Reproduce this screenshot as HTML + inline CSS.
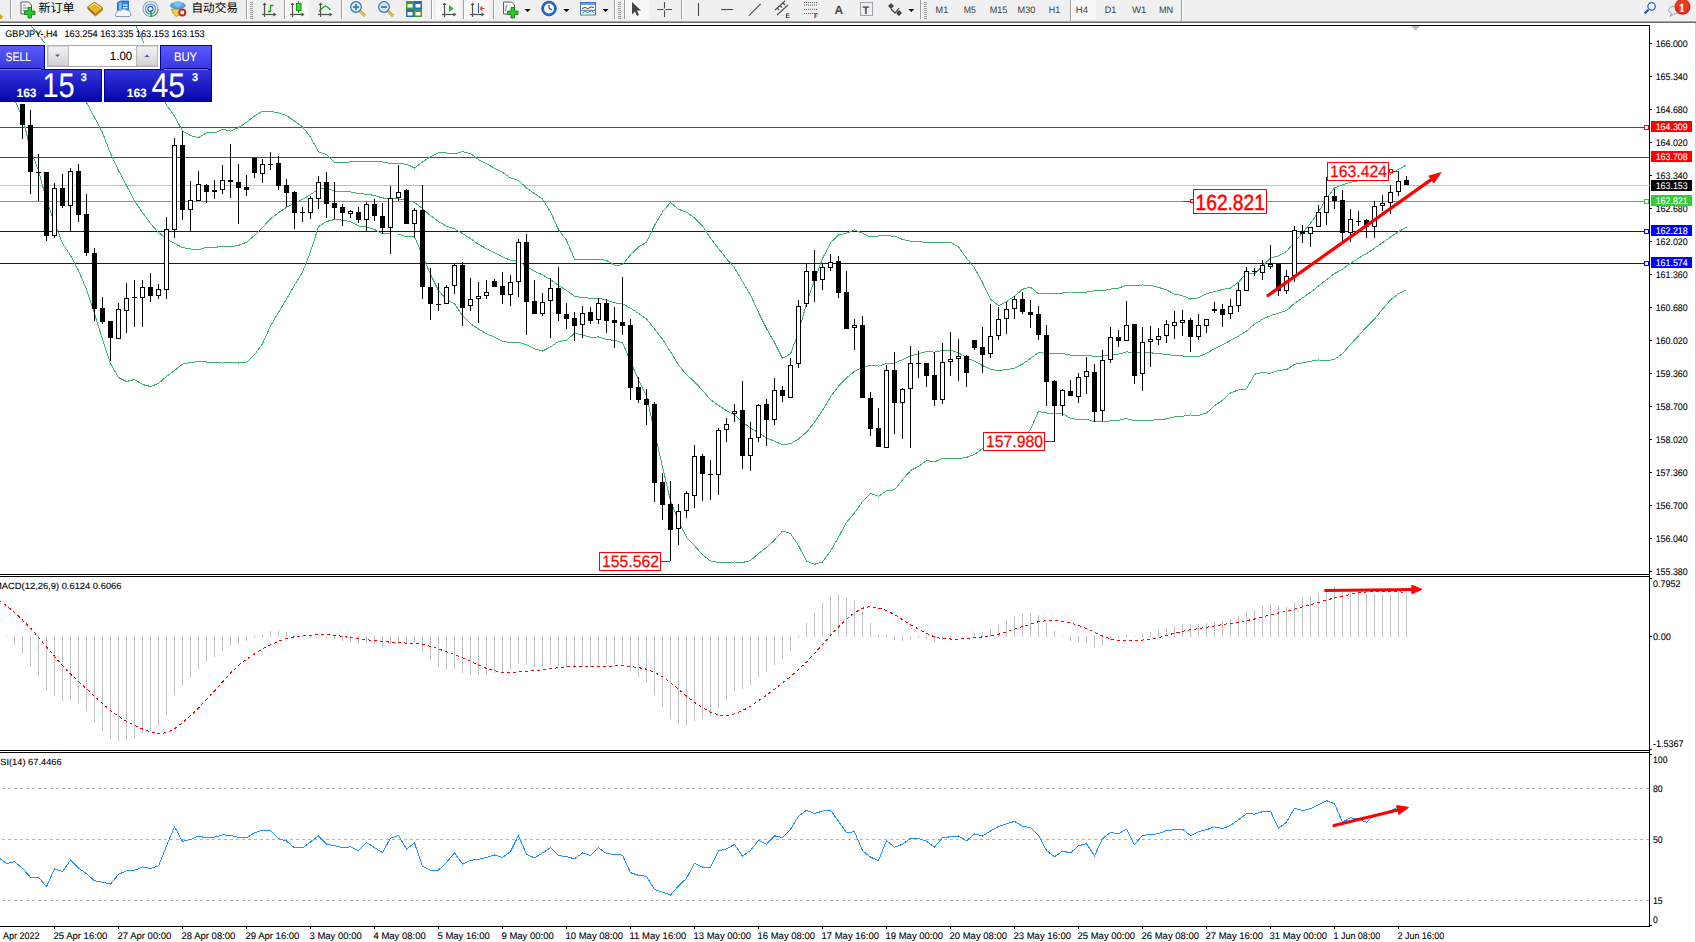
<!DOCTYPE html>
<html><head><meta charset="utf-8"><style>
html,body{margin:0;padding:0;background:#fff;}
body{width:1696px;height:942px;overflow:hidden;position:relative;font-family:'Liberation Sans', 'Noto Sans CJK SC', sans-serif;}
svg{position:absolute;left:0;top:0;}
</style></head><body>
<svg width="1696" height="942" viewBox="0 0 1696 942" shape-rendering="crispEdges" text-rendering="geometricPrecision">
<rect x="0" y="0" width="1696" height="942" fill="#fff"/>
<!-- toolbar -->
<g shape-rendering="auto"><rect x="0" y="0" width="1696" height="21" fill="#f0f0f0"/>
<rect x="0" y="21" width="1696" height="1" fill="#a8a8a8"/>
<rect x="0" y="22" width="1696" height="1" fill="#6b6b6b"/>
<path d="M0 14 L3 16.5 L1.5 19 L0 19 Z" fill="#d9a520"/>
<rect x="10" y="0" width="1" height="19" fill="#a0a0a0"/><rect x="11" y="0" width="1" height="19" fill="#ffffff"/>
<path d="M21 2 L28.5 2 L31.5 5 L31.5 14 L21 14 Z" fill="#fafafa" stroke="#5a5a5a" stroke-width="1"/>
<path d="M23 5 L26 5 M23 8 L29 8 M23 10.5 L27 10.5" stroke="#888" stroke-width="1"/>
<path d="M28 7.5 h3.5 v3.5 h3.5 v3.5 h-3.5 v3.5 h-3.5 v-3.5 h-3.5 v-3.5 h3.5 Z" fill="#22cc22" stroke="#0a7a0a" stroke-width="0.8"/>
<text x="38.5" y="12.1" font-size="12" font-family="'Liberation Sans', 'Noto Sans CJK SC', sans-serif" fill="#000" textLength="36" lengthAdjust="spacingAndGlyphs">新订单</text>
<path d="M87.5 9 L95.5 16.5 L95.5 14 L87.5 7 Z" fill="#9a5a10"/>
<path d="M95.5 16.5 L103 10 L103 8 L95.5 14 Z" fill="#c07a18"/>
<path d="M87.5 7 L94.5 2 L103 8 L95.5 14 Z" fill="#e6b52a" stroke="#a86c12" stroke-width="0.8"/>
<path d="M89.5 7 L94.5 3.5 L100.5 8" fill="none" stroke="#fbe79a" stroke-width="1"/>
<path d="M117.5 2.5 L121 1 L128.5 1 L128.5 11 L117.5 11 Z" fill="#2f86e0" stroke="#1a5cb0" stroke-width="0.8"/>
<path d="M119 3 L121.5 2 L121.5 10 L119 10 Z" fill="#7cc0f5"/>
<path d="M123 4.5 h4.5 v1.2 h-4.5 Z M123 7 h4.5 v1.2 h-4.5 Z" fill="#e8f4ff"/>
<path d="M116 16.5 Q114 14.5 116.5 12.5 Q117 9.5 120.5 10.5 Q123 7.5 126.5 10 Q130.5 9.5 130.5 13 Q132 15.5 129.5 16.5 Z" fill="#f2f4f8" stroke="#8090a8" stroke-width="0.9"/>
<g fill="none" stroke-width="1.1"><circle cx="150.5" cy="9" r="7.5" stroke="#7fb0e0"/><circle cx="150.5" cy="9" r="5" stroke="#4f8ad0"/><circle cx="150.5" cy="9" r="2.6" stroke="#2a63c0"/><path d="M151 10 L151 17" stroke="#22aa22" stroke-width="1.6"/><path d="M151 16.5 A7.5 7.5 0 0 0 158 9" stroke="#3dbb3d"/></g>
<path d="M171.5 9 L183 9 L181 14 L176 16.5 L173 13 Z" fill="#f2d040" stroke="#b08a10" stroke-width="0.8"/>
<ellipse cx="177.8" cy="5.5" rx="7.5" ry="3" fill="#5aaae0" stroke="#2a78b8" stroke-width="0.8"/>
<ellipse cx="177.8" cy="3.8" rx="4" ry="2.8" fill="#7cc0ee"/>
<circle cx="182.3" cy="12.5" r="4" fill="#d02020"/><rect x="180.5" y="10.7" width="3.6" height="3.6" fill="#fff"/>
<text x="191.5" y="12.3" font-size="12" font-family="'Liberation Sans', 'Noto Sans CJK SC', sans-serif" fill="#000" textLength="46.5" lengthAdjust="spacingAndGlyphs">自动交易</text>
<rect x="246" y="0" width="1" height="19" fill="#a0a0a0"/><rect x="247" y="0" width="1" height="19" fill="#ffffff"/>
<rect x="250" y="2" width="3" height="1" fill="#9a9a9a"/><rect x="250" y="4" width="3" height="1" fill="#9a9a9a"/><rect x="250" y="6" width="3" height="1" fill="#9a9a9a"/><rect x="250" y="8" width="3" height="1" fill="#9a9a9a"/><rect x="250" y="10" width="3" height="1" fill="#9a9a9a"/><rect x="250" y="12" width="3" height="1" fill="#9a9a9a"/><rect x="250" y="14" width="3" height="1" fill="#9a9a9a"/><rect x="250" y="16" width="3" height="1" fill="#9a9a9a"/><rect x="250" y="18" width="3" height="1" fill="#9a9a9a"/>
<g stroke="#505050" stroke-width="1.2" fill="none"><path d="M264.5 4 L264.5 17.0"/><path d="M262 14.5 L275 14.5"/></g><path d="M262.5 5 L264.5 2.5 L266.5 5 Z" fill="#505050"/><path d="M273.5 12.5 L276.5 14.5 L273.5 16.5 Z" fill="#505050"/>
<path d="M270.5 5 L270.5 12 M268 11.5 L270.5 11.5 M270.5 5.5 L273.5 5.5" stroke="#1a9a1a" stroke-width="1.3" fill="none"/>
<rect x="284" y="0" width="1" height="19" fill="#a0a0a0"/><rect x="285" y="0" width="1" height="19" fill="#ffffff"/>
<rect x="286" y="0" width="23" height="19" fill="#f8f8f8"/>
<g stroke="#505050" stroke-width="1.2" fill="none"><path d="M292.5 4 L292.5 17.0"/><path d="M290 14.5 L303 14.5"/></g><path d="M290.5 5 L292.5 2.5 L294.5 5 Z" fill="#505050"/><path d="M301.5 12.5 L304.5 14.5 L301.5 16.5 Z" fill="#505050"/>
<path d="M298.7 1 L298.7 13" stroke="#0a8a0a" stroke-width="1"/><rect x="296.5" y="3.5" width="4.6" height="7" fill="#33dd33" stroke="#0a8a0a" stroke-width="0.9"/>
<g stroke="#505050" stroke-width="1.2" fill="none"><path d="M320.5 4 L320.5 17.0"/><path d="M318 14.5 L331 14.5"/></g><path d="M318.5 5 L320.5 2.5 L322.5 5 Z" fill="#505050"/><path d="M329.5 12.5 L332.5 14.5 L329.5 16.5 Z" fill="#505050"/>
<path d="M319 11.5 Q322 8 325 6 Q327 6 330.5 10" stroke="#1a9a1a" stroke-width="1.2" fill="none"/>
<rect x="341" y="0" width="1" height="19" fill="#a0a0a0"/><rect x="342" y="0" width="1" height="19" fill="#ffffff"/>
<path d="M359.5 10.5 L365 16" stroke="#b8940a" stroke-width="2.6"/><path d="M359.5 10.5 L365 16" stroke="#f0d050" stroke-width="1.2"/>
<circle cx="356" cy="7" r="5.3" fill="#d8ecfa" stroke="#2f72c4" stroke-width="1.2"/>
<rect x="353" y="6.2" width="6" height="1.8" fill="#3d7ab8"/>
<rect x="355.1" y="4" width="1.8" height="6" fill="#3d7ab8"/>
<path d="M387.5 10.5 L393 16" stroke="#b8940a" stroke-width="2.6"/><path d="M387.5 10.5 L393 16" stroke="#f0d050" stroke-width="1.2"/>
<circle cx="384" cy="7" r="5.3" fill="#d8ecfa" stroke="#2f72c4" stroke-width="1.2"/>
<rect x="381" y="6.2" width="6" height="1.8" fill="#3d7ab8"/>
<rect x="406" y="1" width="8" height="8" fill="#3aa02a"/><rect x="407.5" y="4" width="5" height="3.5" fill="#fff"/>
<rect x="414" y="1" width="8" height="8" fill="#2a68d0"/><rect x="415.5" y="4" width="5" height="3.5" fill="#fff"/>
<rect x="406" y="9" width="8" height="8" fill="#2a68d0"/><rect x="407.5" y="12" width="5" height="3.5" fill="#fff"/>
<rect x="414" y="9" width="8" height="8" fill="#3aa02a"/><rect x="415.5" y="12" width="5" height="3.5" fill="#fff"/>
<rect x="431" y="0" width="1" height="19" fill="#a0a0a0"/><rect x="432" y="0" width="1" height="19" fill="#ffffff"/>
<rect x="436" y="0" width="24" height="19" fill="#f8f8f8"/>
<g stroke="#505050" stroke-width="1.2" fill="none"><path d="M444.5 4 L444.5 17.0"/><path d="M442 14.5 L455 14.5"/></g><path d="M442.5 5 L444.5 2.5 L446.5 5 Z" fill="#505050"/><path d="M453.5 12.5 L456.5 14.5 L453.5 16.5 Z" fill="#505050"/>
<path d="M449 5 L453.5 8.5 L449 12 Z" fill="#22bb22"/>
<rect x="463" y="0" width="1" height="19" fill="#a0a0a0"/><rect x="464" y="0" width="1" height="19" fill="#ffffff"/>
<rect x="465" y="0" width="24" height="19" fill="#f8f8f8"/>
<g stroke="#505050" stroke-width="1.2" fill="none"><path d="M472.5 4 L472.5 17.0"/><path d="M470 14.5 L483 14.5"/></g><path d="M470.5 5 L472.5 2.5 L474.5 5 Z" fill="#505050"/><path d="M481.5 12.5 L484.5 14.5 L481.5 16.5 Z" fill="#505050"/>
<path d="M478.5 3 L478.5 13" stroke="#2060a0" stroke-width="1"/><path d="M480 8.5 L484.5 8.5 M480 8.5 L482.5 6.5 M480 8.5 L482.5 10.5" stroke="#e05010" stroke-width="1.2"/>
<rect x="493" y="0" width="1" height="19" fill="#a0a0a0"/><rect x="494" y="0" width="1" height="19" fill="#ffffff"/>
<path d="M503.5 2 L511.5 2 L514.5 5 L514.5 14 L503.5 14 Z" fill="#fafafa" stroke="#5a5a5a" stroke-width="1"/>
<text x="505" y="10" font-size="7" font-style="italic" font-family="'Liberation Serif', serif" fill="#333">f</text>
<path d="M511 7.5 h3.5 v3.5 h3.5 v3.5 h-3.5 v3.5 h-3.5 v-3.5 h-3.5 v-3.5 h3.5 Z" fill="#22cc22" stroke="#0a7a0a" stroke-width="0.8"/>
<path d="M524.6 9 L530.6 9 L527.6 12 Z" fill="#000"/>
<circle cx="549" cy="8.5" r="7.3" fill="#1d6fd0" stroke="#0d4a9a" stroke-width="0.8"/><circle cx="549" cy="8.5" r="5" fill="#ffffff"/>
<path d="M549 5 L549 8.5 L552 9.5" stroke="#222" stroke-width="1" fill="none"/>
<path d="M563.4 9 L569.4 9 L566.4 12 Z" fill="#000"/>
<rect x="580.5" y="2.5" width="15" height="12.5" fill="#fff" stroke="#3a78c8" stroke-width="1"/><rect x="581" y="3" width="14" height="2" fill="#6aa0e0"/>
<path d="M582 8.5 L585 7.5 L588 8.5 L591 7 L594 7.5" stroke="#a02010" stroke-width="1" fill="none"/>
<path d="M582 13 L585 11.5 L588 12.5 L591 10.5 L594 12.5" stroke="#20a020" stroke-width="1" fill="none"/>
<rect x="581" y="9.8" width="14" height="1" fill="#3a78c8"/>
<path d="M602.5 9 L608.5 9 L605.5 12 Z" fill="#000"/>
<rect x="614" y="0" width="1" height="19" fill="#a0a0a0"/><rect x="615" y="0" width="1" height="19" fill="#ffffff"/>
<rect x="618" y="2" width="3" height="1" fill="#9a9a9a"/><rect x="618" y="4" width="3" height="1" fill="#9a9a9a"/><rect x="618" y="6" width="3" height="1" fill="#9a9a9a"/><rect x="618" y="8" width="3" height="1" fill="#9a9a9a"/><rect x="618" y="10" width="3" height="1" fill="#9a9a9a"/><rect x="618" y="12" width="3" height="1" fill="#9a9a9a"/><rect x="618" y="14" width="3" height="1" fill="#9a9a9a"/><rect x="618" y="16" width="3" height="1" fill="#9a9a9a"/><rect x="618" y="18" width="3" height="1" fill="#9a9a9a"/>
<rect x="624" y="0" width="1" height="19" fill="#a0a0a0"/><rect x="625" y="0" width="1" height="19" fill="#ffffff"/>
<rect x="626" y="0" width="23" height="19" fill="#f8f8f8"/>
<path d="M632 2 L632 14.5 L635 11.5 L637 16 L639 15 L637 10.5 L641 10.5 Z" fill="#454545"/>
<path d="M657 9.5 L663.5 9.5 M665.5 9.5 L672 9.5 M664.5 2 L664.5 8.5 M664.5 10.5 L664.5 17" stroke="#4a4a4a" stroke-width="1.1"/>
<rect x="681" y="0" width="1" height="19" fill="#a0a0a0"/><rect x="682" y="0" width="1" height="19" fill="#ffffff"/>
<path d="M698.5 3 L698.5 16" stroke="#4a4a4a" stroke-width="1.1"/>
<path d="M721 9.5 L733 9.5" stroke="#4a4a4a" stroke-width="1.1"/>
<path d="M749 15.7 L760.7 3.9" stroke="#4a4a4a" stroke-width="1.1"/>
<path d="M775 10 L785 1 M777 15 L788 5 M777 8 L779 10 M780 5.5 L782 7.5 M783 3 L785 5" stroke="#4a4a4a" stroke-width="1.1" fill="none"/>
<text x="785.5" y="17.5" font-size="6.5" font-weight="bold" font-family="'Liberation Sans', sans-serif" fill="#333">E</text>
<path d="M804 2.5 L817 2.5" stroke="#555" stroke-width="1" stroke-dasharray="1,1"/>
<path d="M804 5 L817 5" stroke="#555" stroke-width="1" stroke-dasharray="1,1"/>
<path d="M804 9.3 L817 9.3" stroke="#555" stroke-width="1" stroke-dasharray="1,1"/>
<path d="M804 13.5 L817 13.5" stroke="#555" stroke-width="1" stroke-dasharray="1,1"/>
<text x="814" y="17.5" font-size="6.5" font-weight="bold" font-family="'Liberation Sans', sans-serif" fill="#333">F</text>
<text x="834.5" y="13.8" font-size="12" font-weight="bold" font-family="'Liberation Sans', sans-serif" fill="#4a4a4a">A</text>
<rect x="860.5" y="2.5" width="12" height="13" fill="none" stroke="#555" stroke-width="1" stroke-dasharray="1,1"/>
<text x="862.5" y="13.5" font-size="11" font-weight="bold" font-family="'Liberation Sans', sans-serif" fill="#4a4a4a">T</text>
<path d="M888 6 L891 3 L894 6 L891 9 Z M896 13 L899 10 L902 13 L899 16 Z" fill="#454545"/><path d="M891 9 L895 13 L899 8" stroke="#454545" stroke-width="1.2" fill="none"/>
<path d="M908.4 9 L914.4 9 L911.4 12 Z" fill="#000"/>
<rect x="920" y="0" width="1" height="19" fill="#a0a0a0"/><rect x="921" y="0" width="1" height="19" fill="#ffffff"/>
<rect x="924" y="2" width="3" height="1" fill="#9a9a9a"/><rect x="924" y="4" width="3" height="1" fill="#9a9a9a"/><rect x="924" y="6" width="3" height="1" fill="#9a9a9a"/><rect x="924" y="8" width="3" height="1" fill="#9a9a9a"/><rect x="924" y="10" width="3" height="1" fill="#9a9a9a"/><rect x="924" y="12" width="3" height="1" fill="#9a9a9a"/><rect x="924" y="14" width="3" height="1" fill="#9a9a9a"/><rect x="924" y="16" width="3" height="1" fill="#9a9a9a"/><rect x="924" y="18" width="3" height="1" fill="#9a9a9a"/>
<rect x="1070" y="0" width="1" height="21" fill="#a0a0a0"/><rect x="1071" y="0" width="1" height="21" fill="#ffffff"/>
<rect x="1072" y="0" width="24" height="19" fill="#f8f8f8"/>
<text x="935.6" y="12.7" font-size="9.4" font-family="'Liberation Sans', sans-serif" fill="#3c3c3c" textLength="12.7" lengthAdjust="spacingAndGlyphs">M1</text>
<text x="963.8" y="12.7" font-size="9.4" font-family="'Liberation Sans', sans-serif" fill="#3c3c3c" textLength="12.2" lengthAdjust="spacingAndGlyphs">M5</text>
<text x="989.7" y="12.7" font-size="9.4" font-family="'Liberation Sans', sans-serif" fill="#3c3c3c" textLength="17.6" lengthAdjust="spacingAndGlyphs">M15</text>
<text x="1017.5" y="12.7" font-size="9.4" font-family="'Liberation Sans', sans-serif" fill="#3c3c3c" textLength="17.9" lengthAdjust="spacingAndGlyphs">M30</text>
<text x="1048.7" y="12.7" font-size="9.4" font-family="'Liberation Sans', sans-serif" fill="#3c3c3c" textLength="11.4" lengthAdjust="spacingAndGlyphs">H1</text>
<text x="1075.7" y="12.7" font-size="9.4" font-family="'Liberation Sans', sans-serif" fill="#3c3c3c" textLength="12.3" lengthAdjust="spacingAndGlyphs">H4</text>
<text x="1104.7" y="12.7" font-size="9.4" font-family="'Liberation Sans', sans-serif" fill="#3c3c3c" textLength="11.5" lengthAdjust="spacingAndGlyphs">D1</text>
<text x="1132.1" y="12.7" font-size="9.4" font-family="'Liberation Sans', sans-serif" fill="#3c3c3c" textLength="14.3" lengthAdjust="spacingAndGlyphs">W1</text>
<text x="1158.9" y="12.7" font-size="9.4" font-family="'Liberation Sans', sans-serif" fill="#3c3c3c" textLength="14.3" lengthAdjust="spacingAndGlyphs">MN</text>
<rect x="1181" y="0" width="1" height="21" fill="#a0a0a0"/><rect x="1182" y="0" width="1" height="21" fill="#ffffff"/>
<path d="M1648.4 9.7 L1644.6 13.5" stroke="#1f56c8" stroke-width="2.2"/><circle cx="1651.6" cy="6.4" r="3.7" fill="#fafbff" stroke="#2a62d0" stroke-width="1.3"/>
<path d="M1670 16.5 L1671.5 13.5 Q1668 12 1668.5 9.5 Q1669.5 6 1674.5 6 Q1679.5 6.5 1679.5 10 Q1679 14 1674 14 Z" fill="#e8e8f0" stroke="#9a9a9a" stroke-width="0.9"/>
<circle cx="1682.5" cy="6.8" r="8" fill="#e02a14"/><circle cx="1682.5" cy="5" r="6" fill="#e8502c" opacity="0.5"/>
<text x="1678.8" y="11.5" font-size="12.5" font-weight="bold" font-family="'Liberation Serif', serif" fill="#fff">1</text></g>
<g shape-rendering="auto">
<clipPath id="cm"><rect x="0" y="26" width="1649" height="548"/></clipPath>
<g clip-path="url(#cm)">
<rect x="0" y="127" width="1649" height="1" fill="#ff0000"/>
<rect x="0" y="157" width="1649" height="1" fill="#ff0000"/>
<rect x="0" y="185" width="1649" height="1" fill="#c0c0c0"/>
<rect x="0" y="201" width="1649" height="1" fill="#32cd32"/>
<rect x="0" y="231" width="1649" height="1" fill="#0000ff"/>
<rect x="0" y="263" width="1649" height="1" fill="#0000ff"/>
<rect x="1644.5" y="125.5" width="4" height="4" fill="#fff" stroke="#ff0000" stroke-width="1"/>
<rect x="1644.5" y="199.5" width="4" height="4" fill="#fff" stroke="#32cd32" stroke-width="1"/>
<rect x="1644.5" y="229.5" width="4" height="4" fill="#fff" stroke="#0000ff" stroke-width="1"/>
<rect x="1644.5" y="261.5" width="4" height="4" fill="#fff" stroke="#0000ff" stroke-width="1"/>
<polyline points="30.5,25.1 38.5,35.1 46.5,45.1 54.5,54.5 62.5,64.5 70.5,75.5 78.5,88.5 86.5,102.5 94.5,117.5 102.5,132.5 110.5,153.5 118.5,170.5 126.5,185.5 134.5,201.0 142.5,212.5 150.5,223.5 158.5,232.5 166.5,239.0 174.5,243.4 182.5,247.6 190.5,249.0 198.5,249.6 206.5,247.4 214.5,247.5 222.5,246.2 230.5,246.7 238.5,245.4 246.5,242.2 254.5,235.4 262.5,227.5 270.5,218.8 278.5,212.6 286.5,207.4 294.5,203.2 302.5,199.4 310.5,194.5 318.5,189.2 326.5,187.9 334.5,191.1 342.5,191.2 350.5,191.8 358.5,193.6 366.5,194.2 374.5,195.5 382.5,197.9 390.5,198.7 398.5,198.9 406.5,200.6 414.5,202.4 422.5,208.6 430.5,215.6 438.5,221.5 446.5,226.2 454.5,228.9 462.5,233.6 470.5,238.6 478.5,244.3 486.5,248.7 494.5,252.7 502.5,256.8 510.5,260.3 518.5,261.4 526.5,266.3 534.5,271.2 542.5,274.9 550.5,279.5 558.5,285.6 566.5,290.4 574.5,296.2 582.5,297.5 590.5,298.3 598.5,298.3 606.5,300.0 614.5,302.8 622.5,303.7 630.5,308.2 638.5,313.4 646.5,319.0 654.5,328.8 662.5,339.3 670.5,351.7 678.5,365.1 686.5,374.7 694.5,381.8 702.5,390.4 710.5,399.6 718.5,405.4 726.5,410.7 734.5,414.9 742.5,422.0 750.5,427.9 758.5,433.0 766.5,437.9 774.5,441.3 782.5,444.8 790.5,443.7 798.5,439.0 806.5,432.3 814.5,422.2 822.5,410.3 830.5,397.0 838.5,386.1 846.5,377.8 854.5,371.3 862.5,367.5 870.5,365.2 878.5,366.1 886.5,363.4 894.5,363.0 902.5,359.7 910.5,355.9 918.5,353.8 926.5,351.6 934.5,352.1 942.5,350.5 950.5,350.2 958.5,352.7 966.5,357.8 974.5,361.2 982.5,365.5 990.5,369.2 998.5,370.6 1006.5,369.6 1014.5,368.3 1022.5,364.0 1030.5,358.3 1038.5,352.7 1046.5,353.3 1054.5,353.4 1062.5,353.5 1070.5,355.1 1078.5,355.8 1086.5,355.6 1094.5,356.2 1102.5,356.1 1110.5,355.0 1118.5,354.3 1126.5,351.8 1134.5,353.2 1142.5,352.6 1150.5,352.8 1158.5,353.6 1166.5,354.4 1174.5,355.5 1182.5,355.9 1190.5,357.0 1198.5,356.6 1206.5,353.4 1214.5,348.7 1222.5,344.9 1230.5,340.4 1238.5,336.1 1246.5,331.1 1254.5,324.1 1262.5,319.3 1270.5,315.6 1278.5,313.1 1286.5,310.6 1294.5,303.3 1302.5,297.9 1310.5,292.3 1318.5,286.1 1326.5,279.7 1334.5,273.6 1342.5,269.2 1350.5,263.4 1358.5,258.2 1366.5,253.6 1374.5,248.3 1382.5,242.7 1390.5,237.0 1398.5,231.6 1406.5,227.2" fill="none" stroke="#3cb371" stroke-width="1" shape-rendering="crispEdges"/>
<polyline points="118.5,-11.5 126.5,5.5 134.5,22.5 142.5,39.5 150.5,60.5 158.5,84.5 166.5,105.0 174.5,116.1 182.5,131.1 190.5,135.6 198.5,137.6 206.5,132.8 214.5,133.0 222.5,129.3 230.5,131.1 238.5,127.7 246.5,122.2 254.5,115.9 262.5,111.2 270.5,111.4 278.5,112.9 286.5,115.6 294.5,121.1 302.5,126.8 310.5,137.1 318.5,151.7 326.5,154.4 334.5,162.7 342.5,162.4 350.5,161.9 358.5,161.3 366.5,161.5 374.5,161.5 382.5,161.9 390.5,163.4 398.5,163.8 406.5,164.1 414.5,168.0 422.5,161.9 430.5,156.8 438.5,152.7 446.5,153.0 454.5,153.9 462.5,151.6 470.5,153.5 478.5,159.6 486.5,163.7 494.5,168.2 502.5,172.4 510.5,177.9 518.5,180.5 526.5,187.9 534.5,193.7 542.5,198.9 550.5,212.0 558.5,229.7 566.5,240.3 574.5,259.2 582.5,260.0 590.5,259.6 598.5,259.5 606.5,260.3 614.5,265.3 622.5,264.9 630.5,254.8 638.5,246.9 646.5,242.3 654.5,225.5 662.5,211.9 670.5,202.5 678.5,209.3 686.5,212.1 694.5,217.9 702.5,226.0 710.5,238.4 718.5,248.5 726.5,258.6 734.5,267.8 742.5,281.5 750.5,295.1 758.5,312.4 766.5,328.5 774.5,342.5 782.5,358.5 790.5,353.9 798.5,332.3 806.5,303.6 814.5,280.1 822.5,258.6 830.5,242.8 838.5,234.9 846.5,233.3 854.5,229.8 862.5,233.3 870.5,237.0 878.5,235.9 886.5,235.9 894.5,236.1 902.5,239.4 910.5,241.2 918.5,241.3 926.5,242.7 934.5,242.4 942.5,242.5 950.5,242.3 958.5,246.8 966.5,258.3 974.5,267.9 982.5,282.5 990.5,299.2 998.5,305.6 1006.5,301.6 1014.5,296.2 1022.5,289.3 1030.5,287.1 1038.5,293.9 1046.5,293.5 1054.5,293.2 1062.5,293.1 1070.5,292.0 1078.5,292.0 1086.5,292.1 1094.5,290.7 1102.5,290.6 1110.5,289.1 1118.5,288.1 1126.5,285.2 1134.5,285.8 1142.5,285.0 1150.5,285.3 1158.5,287.4 1166.5,289.9 1174.5,294.2 1182.5,295.7 1190.5,299.0 1198.5,297.7 1206.5,293.8 1214.5,291.6 1222.5,289.5 1230.5,288.0 1238.5,282.3 1246.5,273.2 1254.5,274.0 1262.5,266.0 1270.5,257.9 1278.5,255.8 1286.5,251.5 1294.5,242.3 1302.5,232.8 1310.5,223.4 1318.5,212.2 1326.5,198.3 1334.5,188.0 1342.5,184.7 1350.5,182.3 1358.5,180.6 1366.5,180.3 1374.5,177.5 1382.5,176.4 1390.5,174.2 1398.5,169.3 1406.5,164.9" fill="none" stroke="#3cb371" stroke-width="1" shape-rendering="crispEdges"/>
<polyline points="6.5,80.5 14.5,99.5 22.5,117.5 30.5,149.5 38.5,170.5 46.5,200.5 54.5,222.5 62.5,243.5 70.5,255.5 78.5,270.5 86.5,289.5 94.5,313.5 102.5,339.5 110.5,363.5 118.5,377.5 126.5,381.5 134.5,379.5 142.5,384.5 150.5,386.5 158.5,383.5 166.5,376.5 174.5,370.6 182.5,364.1 190.5,362.5 198.5,361.6 206.5,362.0 214.5,362.0 222.5,363.1 230.5,362.3 238.5,363.0 246.5,362.2 254.5,354.8 262.5,343.7 270.5,326.1 278.5,312.3 286.5,299.2 294.5,285.2 302.5,272.1 310.5,252.0 318.5,226.7 326.5,221.5 334.5,219.5 342.5,220.1 350.5,221.7 358.5,225.9 366.5,226.9 374.5,229.4 382.5,233.9 390.5,234.0 398.5,234.0 406.5,237.0 414.5,236.9 422.5,255.3 430.5,274.4 438.5,290.4 446.5,299.5 454.5,303.8 462.5,315.6 470.5,323.7 478.5,329.0 486.5,333.8 494.5,337.2 502.5,341.1 510.5,342.8 518.5,342.3 526.5,344.6 534.5,348.8 542.5,351.0 550.5,346.9 558.5,341.5 566.5,340.4 574.5,333.2 582.5,335.0 590.5,337.1 598.5,337.0 606.5,339.6 614.5,340.4 622.5,342.6 630.5,361.6 638.5,379.8 646.5,395.7 654.5,432.1 662.5,466.7 670.5,500.9 678.5,520.9 686.5,537.2 694.5,545.7 702.5,554.7 710.5,560.9 718.5,562.4 726.5,562.7 734.5,562.0 742.5,562.5 750.5,560.6 758.5,553.5 766.5,547.4 774.5,540.0 782.5,531.1 790.5,533.4 798.5,545.6 806.5,561.0 814.5,564.3 822.5,562.0 830.5,551.2 838.5,537.2 846.5,522.4 854.5,512.8 862.5,501.6 870.5,493.5 878.5,496.3 886.5,490.8 894.5,489.9 902.5,479.9 910.5,470.6 918.5,466.4 926.5,460.6 934.5,461.9 942.5,458.5 950.5,458.1 958.5,458.7 966.5,457.4 974.5,454.5 982.5,448.6 990.5,439.2 998.5,435.6 1006.5,437.6 1014.5,440.4 1022.5,438.7 1030.5,429.5 1038.5,411.5 1046.5,413.0 1054.5,413.7 1062.5,413.8 1070.5,418.2 1078.5,419.6 1086.5,419.1 1094.5,421.7 1102.5,421.6 1110.5,420.9 1118.5,420.4 1126.5,418.5 1134.5,420.7 1142.5,420.2 1150.5,420.2 1158.5,419.8 1166.5,418.9 1174.5,416.8 1182.5,416.2 1190.5,415.0 1198.5,415.4 1206.5,413.1 1214.5,405.8 1222.5,400.4 1230.5,392.9 1238.5,389.9 1246.5,389.0 1254.5,374.2 1262.5,372.6 1270.5,373.3 1278.5,370.4 1286.5,369.7 1294.5,364.3 1302.5,363.0 1310.5,361.2 1318.5,360.0 1326.5,361.0 1334.5,359.2 1342.5,353.7 1350.5,344.4 1358.5,335.8 1366.5,326.8 1374.5,319.1 1382.5,309.1 1390.5,299.9 1398.5,293.8 1406.5,289.6" fill="none" stroke="#3cb371" stroke-width="1" shape-rendering="crispEdges"/>
<rect x="22" y="104" width="1" height="35" fill="#000"/>
<rect x="20" y="104" width="5" height="21" fill="#000"/>
<rect x="30" y="110" width="1" height="84" fill="#000"/>
<rect x="28" y="125" width="5" height="47" fill="#000"/>
<rect x="38" y="154" width="1" height="47" fill="#000"/>
<rect x="36" y="172" width="5" height="1" fill="#000"/>
<rect x="46" y="172" width="1" height="69" fill="#000"/>
<rect x="44" y="172" width="5" height="64" fill="#000"/>
<rect x="54" y="183" width="1" height="55" fill="#000"/>
<rect x="52" y="188" width="5" height="48" fill="#000"/>
<rect x="53" y="189" width="3" height="46" fill="#fff"/>
<rect x="62" y="174" width="1" height="34" fill="#000"/>
<rect x="60" y="188" width="5" height="18" fill="#000"/>
<rect x="70" y="168" width="1" height="63" fill="#000"/>
<rect x="68" y="171" width="5" height="35" fill="#000"/>
<rect x="69" y="172" width="3" height="33" fill="#fff"/>
<rect x="78" y="164" width="1" height="58" fill="#000"/>
<rect x="76" y="171" width="5" height="44" fill="#000"/>
<rect x="86" y="194" width="1" height="62" fill="#000"/>
<rect x="84" y="214" width="5" height="39" fill="#000"/>
<rect x="94" y="248" width="1" height="73" fill="#000"/>
<rect x="92" y="253" width="5" height="56" fill="#000"/>
<rect x="102" y="297" width="1" height="27" fill="#000"/>
<rect x="100" y="308" width="5" height="14" fill="#000"/>
<rect x="110" y="321" width="1" height="40" fill="#000"/>
<rect x="108" y="321" width="5" height="17" fill="#000"/>
<rect x="118" y="303" width="1" height="36" fill="#000"/>
<rect x="116" y="309" width="5" height="30" fill="#000"/>
<rect x="117" y="310" width="3" height="28" fill="#fff"/>
<rect x="126" y="283" width="1" height="50" fill="#000"/>
<rect x="124" y="298" width="5" height="13" fill="#000"/>
<rect x="125" y="299" width="3" height="11" fill="#fff"/>
<rect x="134" y="280" width="1" height="47" fill="#000"/>
<rect x="132" y="297" width="5" height="1" fill="#000"/>
<rect x="142" y="280" width="1" height="47" fill="#000"/>
<rect x="140" y="287" width="5" height="11" fill="#000"/>
<rect x="141" y="288" width="3" height="9" fill="#fff"/>
<rect x="150" y="273" width="1" height="29" fill="#000"/>
<rect x="148" y="287" width="5" height="9" fill="#000"/>
<rect x="158" y="284" width="1" height="15" fill="#000"/>
<rect x="156" y="289" width="5" height="7" fill="#000"/>
<rect x="157" y="290" width="3" height="5" fill="#fff"/>
<rect x="166" y="217" width="1" height="82" fill="#000"/>
<rect x="164" y="229" width="5" height="61" fill="#000"/>
<rect x="165" y="230" width="3" height="59" fill="#fff"/>
<rect x="174" y="138" width="1" height="100" fill="#000"/>
<rect x="172" y="145" width="5" height="85" fill="#000"/>
<rect x="173" y="146" width="3" height="83" fill="#fff"/>
<rect x="182" y="131" width="1" height="89" fill="#000"/>
<rect x="180" y="145" width="5" height="65" fill="#000"/>
<rect x="190" y="181" width="1" height="51" fill="#000"/>
<rect x="188" y="200" width="5" height="10" fill="#000"/>
<rect x="189" y="201" width="3" height="8" fill="#fff"/>
<rect x="198" y="171" width="1" height="30" fill="#000"/>
<rect x="196" y="184" width="5" height="17" fill="#000"/>
<rect x="197" y="185" width="3" height="15" fill="#fff"/>
<rect x="206" y="184" width="1" height="19" fill="#000"/>
<rect x="204" y="185" width="5" height="7" fill="#000"/>
<rect x="214" y="180" width="1" height="19" fill="#000"/>
<rect x="212" y="190" width="5" height="2" fill="#000"/>
<rect x="222" y="165" width="1" height="29" fill="#000"/>
<rect x="220" y="180" width="5" height="10" fill="#000"/>
<rect x="221" y="181" width="3" height="8" fill="#fff"/>
<rect x="230" y="144" width="1" height="54" fill="#000"/>
<rect x="228" y="180" width="5" height="2" fill="#000"/>
<rect x="238" y="164" width="1" height="60" fill="#000"/>
<rect x="236" y="182" width="5" height="6" fill="#000"/>
<rect x="246" y="175" width="1" height="21" fill="#000"/>
<rect x="244" y="187" width="5" height="3" fill="#000"/>
<rect x="254" y="157" width="1" height="21" fill="#000"/>
<rect x="252" y="158" width="5" height="15" fill="#000"/>
<rect x="262" y="159" width="1" height="24" fill="#000"/>
<rect x="260" y="164" width="5" height="10" fill="#000"/>
<rect x="261" y="165" width="3" height="8" fill="#fff"/>
<rect x="270" y="152" width="1" height="18" fill="#000"/>
<rect x="268" y="164" width="5" height="1" fill="#000"/>
<rect x="278" y="156" width="1" height="34" fill="#000"/>
<rect x="276" y="163" width="5" height="23" fill="#000"/>
<rect x="286" y="179" width="1" height="28" fill="#000"/>
<rect x="284" y="185" width="5" height="8" fill="#000"/>
<rect x="294" y="191" width="1" height="38" fill="#000"/>
<rect x="292" y="192" width="5" height="21" fill="#000"/>
<rect x="302" y="207" width="1" height="15" fill="#000"/>
<rect x="300" y="212" width="5" height="1" fill="#000"/>
<rect x="310" y="196" width="1" height="23" fill="#000"/>
<rect x="308" y="198" width="5" height="15" fill="#000"/>
<rect x="309" y="199" width="3" height="13" fill="#fff"/>
<rect x="318" y="176" width="1" height="33" fill="#000"/>
<rect x="316" y="182" width="5" height="17" fill="#000"/>
<rect x="317" y="183" width="3" height="15" fill="#fff"/>
<rect x="326" y="172" width="1" height="46" fill="#000"/>
<rect x="324" y="182" width="5" height="22" fill="#000"/>
<rect x="334" y="182" width="1" height="37" fill="#000"/>
<rect x="332" y="203" width="5" height="5" fill="#000"/>
<rect x="342" y="204" width="1" height="22" fill="#000"/>
<rect x="340" y="207" width="5" height="6" fill="#000"/>
<rect x="350" y="210" width="1" height="8" fill="#000"/>
<rect x="348" y="211" width="5" height="3" fill="#000"/>
<rect x="349" y="212" width="3" height="1" fill="#fff"/>
<rect x="358" y="207" width="1" height="16" fill="#000"/>
<rect x="356" y="212" width="5" height="8" fill="#000"/>
<rect x="366" y="202" width="1" height="29" fill="#000"/>
<rect x="364" y="204" width="5" height="16" fill="#000"/>
<rect x="365" y="205" width="3" height="14" fill="#fff"/>
<rect x="374" y="199" width="1" height="22" fill="#000"/>
<rect x="372" y="204" width="5" height="12" fill="#000"/>
<rect x="382" y="203" width="1" height="31" fill="#000"/>
<rect x="380" y="216" width="5" height="12" fill="#000"/>
<rect x="390" y="186" width="1" height="68" fill="#000"/>
<rect x="388" y="198" width="5" height="30" fill="#000"/>
<rect x="389" y="199" width="3" height="28" fill="#fff"/>
<rect x="398" y="165" width="1" height="36" fill="#000"/>
<rect x="396" y="192" width="5" height="6" fill="#000"/>
<rect x="397" y="193" width="3" height="4" fill="#fff"/>
<rect x="406" y="189" width="1" height="35" fill="#000"/>
<rect x="404" y="190" width="5" height="34" fill="#000"/>
<rect x="414" y="208" width="1" height="30" fill="#000"/>
<rect x="412" y="210" width="5" height="14" fill="#000"/>
<rect x="413" y="211" width="3" height="12" fill="#fff"/>
<rect x="422" y="185" width="1" height="114" fill="#000"/>
<rect x="420" y="210" width="5" height="77" fill="#000"/>
<rect x="430" y="268" width="1" height="52" fill="#000"/>
<rect x="428" y="287" width="5" height="17" fill="#000"/>
<rect x="438" y="283" width="1" height="28" fill="#000"/>
<rect x="436" y="304" width="5" height="1" fill="#000"/>
<rect x="446" y="285" width="1" height="19" fill="#000"/>
<rect x="444" y="287" width="5" height="17" fill="#000"/>
<rect x="445" y="288" width="3" height="15" fill="#fff"/>
<rect x="454" y="264" width="1" height="30" fill="#000"/>
<rect x="452" y="265" width="5" height="21" fill="#000"/>
<rect x="453" y="266" width="3" height="19" fill="#fff"/>
<rect x="462" y="262" width="1" height="64" fill="#000"/>
<rect x="460" y="265" width="5" height="43" fill="#000"/>
<rect x="470" y="278" width="1" height="33" fill="#000"/>
<rect x="468" y="299" width="5" height="7" fill="#000"/>
<rect x="469" y="300" width="3" height="5" fill="#fff"/>
<rect x="478" y="282" width="1" height="41" fill="#000"/>
<rect x="476" y="296" width="5" height="3" fill="#000"/>
<rect x="477" y="297" width="3" height="1" fill="#fff"/>
<rect x="486" y="280" width="1" height="19" fill="#000"/>
<rect x="484" y="292" width="5" height="4" fill="#000"/>
<rect x="485" y="293" width="3" height="2" fill="#fff"/>
<rect x="494" y="279" width="1" height="8" fill="#000"/>
<rect x="492" y="281" width="5" height="6" fill="#000"/>
<rect x="502" y="272" width="1" height="32" fill="#000"/>
<rect x="500" y="286" width="5" height="9" fill="#000"/>
<rect x="510" y="275" width="1" height="31" fill="#000"/>
<rect x="508" y="282" width="5" height="13" fill="#000"/>
<rect x="509" y="283" width="3" height="11" fill="#fff"/>
<rect x="518" y="239" width="1" height="58" fill="#000"/>
<rect x="516" y="242" width="5" height="40" fill="#000"/>
<rect x="517" y="243" width="3" height="38" fill="#fff"/>
<rect x="526" y="234" width="1" height="101" fill="#000"/>
<rect x="524" y="242" width="5" height="60" fill="#000"/>
<rect x="534" y="280" width="1" height="34" fill="#000"/>
<rect x="532" y="301" width="5" height="13" fill="#000"/>
<rect x="542" y="293" width="1" height="23" fill="#000"/>
<rect x="540" y="302" width="5" height="12" fill="#000"/>
<rect x="541" y="303" width="3" height="10" fill="#fff"/>
<rect x="550" y="278" width="1" height="60" fill="#000"/>
<rect x="548" y="288" width="5" height="13" fill="#000"/>
<rect x="549" y="289" width="3" height="11" fill="#fff"/>
<rect x="558" y="267" width="1" height="54" fill="#000"/>
<rect x="556" y="288" width="5" height="26" fill="#000"/>
<rect x="566" y="303" width="1" height="26" fill="#000"/>
<rect x="564" y="314" width="5" height="5" fill="#000"/>
<rect x="574" y="312" width="1" height="29" fill="#000"/>
<rect x="572" y="318" width="5" height="8" fill="#000"/>
<rect x="582" y="306" width="1" height="32" fill="#000"/>
<rect x="580" y="313" width="5" height="12" fill="#000"/>
<rect x="581" y="314" width="3" height="10" fill="#fff"/>
<rect x="590" y="307" width="1" height="17" fill="#000"/>
<rect x="588" y="312" width="5" height="9" fill="#000"/>
<rect x="598" y="298" width="1" height="26" fill="#000"/>
<rect x="596" y="303" width="5" height="17" fill="#000"/>
<rect x="597" y="304" width="3" height="15" fill="#fff"/>
<rect x="606" y="299" width="1" height="34" fill="#000"/>
<rect x="604" y="303" width="5" height="18" fill="#000"/>
<rect x="614" y="307" width="1" height="41" fill="#000"/>
<rect x="612" y="320" width="5" height="3" fill="#000"/>
<rect x="622" y="277" width="1" height="58" fill="#000"/>
<rect x="620" y="322" width="5" height="4" fill="#000"/>
<rect x="630" y="319" width="1" height="81" fill="#000"/>
<rect x="628" y="325" width="5" height="63" fill="#000"/>
<rect x="638" y="377" width="1" height="26" fill="#000"/>
<rect x="636" y="387" width="5" height="13" fill="#000"/>
<rect x="646" y="389" width="1" height="36" fill="#000"/>
<rect x="644" y="399" width="5" height="6" fill="#000"/>
<rect x="654" y="402" width="1" height="100" fill="#000"/>
<rect x="652" y="404" width="5" height="79" fill="#000"/>
<rect x="662" y="473" width="1" height="47" fill="#000"/>
<rect x="660" y="482" width="5" height="23" fill="#000"/>
<rect x="670" y="481" width="1" height="80" fill="#000"/>
<rect x="668" y="504" width="5" height="26" fill="#000"/>
<rect x="678" y="504" width="1" height="41" fill="#000"/>
<rect x="676" y="511" width="5" height="18" fill="#000"/>
<rect x="677" y="512" width="3" height="16" fill="#fff"/>
<rect x="686" y="491" width="1" height="27" fill="#000"/>
<rect x="684" y="493" width="5" height="18" fill="#000"/>
<rect x="685" y="494" width="3" height="16" fill="#fff"/>
<rect x="694" y="445" width="1" height="63" fill="#000"/>
<rect x="692" y="456" width="5" height="40" fill="#000"/>
<rect x="693" y="457" width="3" height="38" fill="#fff"/>
<rect x="702" y="454" width="1" height="47" fill="#000"/>
<rect x="700" y="456" width="5" height="18" fill="#000"/>
<rect x="710" y="460" width="1" height="40" fill="#000"/>
<rect x="708" y="474" width="5" height="1" fill="#000"/>
<rect x="718" y="428" width="1" height="67" fill="#000"/>
<rect x="716" y="430" width="5" height="45" fill="#000"/>
<rect x="717" y="431" width="3" height="43" fill="#fff"/>
<rect x="726" y="418" width="1" height="24" fill="#000"/>
<rect x="724" y="424" width="5" height="6" fill="#000"/>
<rect x="725" y="425" width="3" height="4" fill="#fff"/>
<rect x="734" y="404" width="1" height="18" fill="#000"/>
<rect x="732" y="411" width="5" height="3" fill="#000"/>
<rect x="733" y="412" width="3" height="1" fill="#fff"/>
<rect x="742" y="381" width="1" height="88" fill="#000"/>
<rect x="740" y="410" width="5" height="46" fill="#000"/>
<rect x="750" y="422" width="1" height="49" fill="#000"/>
<rect x="748" y="438" width="5" height="18" fill="#000"/>
<rect x="749" y="439" width="3" height="16" fill="#fff"/>
<rect x="758" y="404" width="1" height="38" fill="#000"/>
<rect x="756" y="405" width="5" height="33" fill="#000"/>
<rect x="757" y="406" width="3" height="31" fill="#fff"/>
<rect x="766" y="399" width="1" height="47" fill="#000"/>
<rect x="764" y="404" width="5" height="16" fill="#000"/>
<rect x="774" y="378" width="1" height="47" fill="#000"/>
<rect x="772" y="390" width="5" height="30" fill="#000"/>
<rect x="773" y="391" width="3" height="28" fill="#fff"/>
<rect x="782" y="386" width="1" height="16" fill="#000"/>
<rect x="780" y="390" width="5" height="6" fill="#000"/>
<rect x="790" y="358" width="1" height="40" fill="#000"/>
<rect x="788" y="365" width="5" height="33" fill="#000"/>
<rect x="789" y="366" width="3" height="31" fill="#fff"/>
<rect x="798" y="300" width="1" height="68" fill="#000"/>
<rect x="796" y="306" width="5" height="58" fill="#000"/>
<rect x="797" y="307" width="3" height="56" fill="#fff"/>
<rect x="806" y="263" width="1" height="44" fill="#000"/>
<rect x="804" y="271" width="5" height="33" fill="#000"/>
<rect x="805" y="272" width="3" height="31" fill="#fff"/>
<rect x="814" y="250" width="1" height="52" fill="#000"/>
<rect x="812" y="271" width="5" height="10" fill="#000"/>
<rect x="822" y="264" width="1" height="26" fill="#000"/>
<rect x="820" y="267" width="5" height="13" fill="#000"/>
<rect x="821" y="268" width="3" height="11" fill="#fff"/>
<rect x="830" y="254" width="1" height="17" fill="#000"/>
<rect x="828" y="262" width="5" height="6" fill="#000"/>
<rect x="829" y="263" width="3" height="4" fill="#fff"/>
<rect x="838" y="256" width="1" height="42" fill="#000"/>
<rect x="836" y="261" width="5" height="32" fill="#000"/>
<rect x="846" y="271" width="1" height="58" fill="#000"/>
<rect x="844" y="292" width="5" height="37" fill="#000"/>
<rect x="854" y="319" width="1" height="31" fill="#000"/>
<rect x="852" y="325" width="5" height="3" fill="#000"/>
<rect x="853" y="326" width="3" height="1" fill="#fff"/>
<rect x="862" y="316" width="1" height="82" fill="#000"/>
<rect x="860" y="325" width="5" height="73" fill="#000"/>
<rect x="870" y="392" width="1" height="44" fill="#000"/>
<rect x="868" y="398" width="5" height="31" fill="#000"/>
<rect x="878" y="408" width="1" height="39" fill="#000"/>
<rect x="876" y="428" width="5" height="19" fill="#000"/>
<rect x="886" y="365" width="1" height="83" fill="#000"/>
<rect x="884" y="370" width="5" height="78" fill="#000"/>
<rect x="885" y="371" width="3" height="76" fill="#fff"/>
<rect x="894" y="352" width="1" height="82" fill="#000"/>
<rect x="892" y="370" width="5" height="33" fill="#000"/>
<rect x="902" y="388" width="1" height="51" fill="#000"/>
<rect x="900" y="389" width="5" height="14" fill="#000"/>
<rect x="901" y="390" width="3" height="12" fill="#fff"/>
<rect x="910" y="346" width="1" height="102" fill="#000"/>
<rect x="908" y="363" width="5" height="26" fill="#000"/>
<rect x="909" y="364" width="3" height="24" fill="#fff"/>
<rect x="918" y="351" width="1" height="27" fill="#000"/>
<rect x="916" y="363" width="5" height="1" fill="#000"/>
<rect x="926" y="363" width="1" height="24" fill="#000"/>
<rect x="924" y="363" width="5" height="13" fill="#000"/>
<rect x="934" y="352" width="1" height="54" fill="#000"/>
<rect x="932" y="375" width="5" height="25" fill="#000"/>
<rect x="942" y="343" width="1" height="61" fill="#000"/>
<rect x="940" y="362" width="5" height="38" fill="#000"/>
<rect x="941" y="363" width="3" height="36" fill="#fff"/>
<rect x="950" y="332" width="1" height="44" fill="#000"/>
<rect x="948" y="359" width="5" height="3" fill="#000"/>
<rect x="949" y="360" width="3" height="1" fill="#fff"/>
<rect x="958" y="339" width="1" height="42" fill="#000"/>
<rect x="956" y="356" width="5" height="3" fill="#000"/>
<rect x="957" y="357" width="3" height="1" fill="#fff"/>
<rect x="966" y="355" width="1" height="32" fill="#000"/>
<rect x="964" y="356" width="5" height="17" fill="#000"/>
<rect x="974" y="340" width="1" height="10" fill="#000"/>
<rect x="972" y="340" width="5" height="8" fill="#000"/>
<rect x="982" y="327" width="1" height="46" fill="#000"/>
<rect x="980" y="347" width="5" height="8" fill="#000"/>
<rect x="990" y="304" width="1" height="54" fill="#000"/>
<rect x="988" y="336" width="5" height="18" fill="#000"/>
<rect x="989" y="337" width="3" height="16" fill="#fff"/>
<rect x="998" y="307" width="1" height="33" fill="#000"/>
<rect x="996" y="319" width="5" height="17" fill="#000"/>
<rect x="997" y="320" width="3" height="15" fill="#fff"/>
<rect x="1006" y="302" width="1" height="32" fill="#000"/>
<rect x="1004" y="309" width="5" height="10" fill="#000"/>
<rect x="1005" y="310" width="3" height="8" fill="#fff"/>
<rect x="1014" y="296" width="1" height="23" fill="#000"/>
<rect x="1012" y="299" width="5" height="10" fill="#000"/>
<rect x="1013" y="300" width="3" height="8" fill="#fff"/>
<rect x="1022" y="292" width="1" height="22" fill="#000"/>
<rect x="1020" y="299" width="5" height="13" fill="#000"/>
<rect x="1030" y="300" width="1" height="28" fill="#000"/>
<rect x="1028" y="312" width="5" height="3" fill="#000"/>
<rect x="1038" y="306" width="1" height="34" fill="#000"/>
<rect x="1036" y="314" width="5" height="21" fill="#000"/>
<rect x="1046" y="325" width="1" height="81" fill="#000"/>
<rect x="1044" y="335" width="5" height="47" fill="#000"/>
<rect x="1054" y="380" width="1" height="62" fill="#000"/>
<rect x="1052" y="381" width="5" height="25" fill="#000"/>
<rect x="1062" y="389" width="1" height="27" fill="#000"/>
<rect x="1060" y="390" width="5" height="16" fill="#000"/>
<rect x="1061" y="391" width="3" height="14" fill="#fff"/>
<rect x="1070" y="380" width="1" height="16" fill="#000"/>
<rect x="1068" y="391" width="5" height="5" fill="#000"/>
<rect x="1078" y="373" width="1" height="30" fill="#000"/>
<rect x="1076" y="377" width="5" height="20" fill="#000"/>
<rect x="1077" y="378" width="3" height="18" fill="#fff"/>
<rect x="1086" y="357" width="1" height="37" fill="#000"/>
<rect x="1084" y="371" width="5" height="6" fill="#000"/>
<rect x="1085" y="372" width="3" height="4" fill="#fff"/>
<rect x="1094" y="364" width="1" height="58" fill="#000"/>
<rect x="1092" y="372" width="5" height="40" fill="#000"/>
<rect x="1102" y="350" width="1" height="71" fill="#000"/>
<rect x="1100" y="360" width="5" height="51" fill="#000"/>
<rect x="1101" y="361" width="3" height="49" fill="#fff"/>
<rect x="1110" y="327" width="1" height="36" fill="#000"/>
<rect x="1108" y="337" width="5" height="23" fill="#000"/>
<rect x="1109" y="338" width="3" height="21" fill="#fff"/>
<rect x="1118" y="330" width="1" height="17" fill="#000"/>
<rect x="1116" y="337" width="5" height="4" fill="#000"/>
<rect x="1126" y="301" width="1" height="40" fill="#000"/>
<rect x="1124" y="325" width="5" height="16" fill="#000"/>
<rect x="1125" y="326" width="3" height="14" fill="#fff"/>
<rect x="1134" y="324" width="1" height="60" fill="#000"/>
<rect x="1132" y="324" width="5" height="52" fill="#000"/>
<rect x="1142" y="327" width="1" height="64" fill="#000"/>
<rect x="1140" y="342" width="5" height="32" fill="#000"/>
<rect x="1141" y="343" width="3" height="30" fill="#fff"/>
<rect x="1150" y="326" width="1" height="41" fill="#000"/>
<rect x="1148" y="339" width="5" height="3" fill="#000"/>
<rect x="1149" y="340" width="3" height="1" fill="#fff"/>
<rect x="1158" y="328" width="1" height="17" fill="#000"/>
<rect x="1156" y="336" width="5" height="4" fill="#000"/>
<rect x="1157" y="337" width="3" height="2" fill="#fff"/>
<rect x="1166" y="320" width="1" height="23" fill="#000"/>
<rect x="1164" y="324" width="5" height="12" fill="#000"/>
<rect x="1165" y="325" width="3" height="10" fill="#fff"/>
<rect x="1174" y="311" width="1" height="28" fill="#000"/>
<rect x="1172" y="322" width="5" height="4" fill="#000"/>
<rect x="1173" y="323" width="3" height="2" fill="#fff"/>
<rect x="1182" y="310" width="1" height="26" fill="#000"/>
<rect x="1180" y="320" width="5" height="3" fill="#000"/>
<rect x="1181" y="321" width="3" height="1" fill="#fff"/>
<rect x="1190" y="318" width="1" height="34" fill="#000"/>
<rect x="1188" y="320" width="5" height="17" fill="#000"/>
<rect x="1198" y="314" width="1" height="26" fill="#000"/>
<rect x="1196" y="325" width="5" height="12" fill="#000"/>
<rect x="1197" y="326" width="3" height="10" fill="#fff"/>
<rect x="1206" y="319" width="1" height="14" fill="#000"/>
<rect x="1204" y="319" width="5" height="7" fill="#000"/>
<rect x="1205" y="320" width="3" height="5" fill="#fff"/>
<rect x="1214" y="302" width="1" height="11" fill="#000"/>
<rect x="1212" y="309" width="5" height="2" fill="#000"/>
<rect x="1222" y="304" width="1" height="23" fill="#000"/>
<rect x="1220" y="309" width="5" height="6" fill="#000"/>
<rect x="1230" y="299" width="1" height="20" fill="#000"/>
<rect x="1228" y="306" width="5" height="8" fill="#000"/>
<rect x="1229" y="307" width="3" height="6" fill="#fff"/>
<rect x="1238" y="283" width="1" height="29" fill="#000"/>
<rect x="1236" y="290" width="5" height="16" fill="#000"/>
<rect x="1237" y="291" width="3" height="14" fill="#fff"/>
<rect x="1246" y="267" width="1" height="24" fill="#000"/>
<rect x="1244" y="271" width="5" height="20" fill="#000"/>
<rect x="1245" y="272" width="3" height="18" fill="#fff"/>
<rect x="1254" y="268" width="1" height="8" fill="#000"/>
<rect x="1252" y="271" width="5" height="1" fill="#000"/>
<rect x="1262" y="260" width="1" height="20" fill="#000"/>
<rect x="1260" y="265" width="5" height="8" fill="#000"/>
<rect x="1261" y="266" width="3" height="6" fill="#fff"/>
<rect x="1270" y="245" width="1" height="24" fill="#000"/>
<rect x="1268" y="264" width="5" height="3" fill="#000"/>
<rect x="1269" y="265" width="3" height="1" fill="#fff"/>
<rect x="1278" y="264" width="1" height="32" fill="#000"/>
<rect x="1276" y="264" width="5" height="27" fill="#000"/>
<rect x="1286" y="270" width="1" height="24" fill="#000"/>
<rect x="1284" y="276" width="5" height="15" fill="#000"/>
<rect x="1285" y="277" width="3" height="13" fill="#fff"/>
<rect x="1294" y="226" width="1" height="56" fill="#000"/>
<rect x="1292" y="230" width="5" height="46" fill="#000"/>
<rect x="1293" y="231" width="3" height="44" fill="#fff"/>
<rect x="1302" y="225" width="1" height="18" fill="#000"/>
<rect x="1300" y="231" width="5" height="3" fill="#000"/>
<rect x="1310" y="227" width="1" height="20" fill="#000"/>
<rect x="1308" y="227" width="5" height="7" fill="#000"/>
<rect x="1309" y="228" width="3" height="5" fill="#fff"/>
<rect x="1318" y="205" width="1" height="22" fill="#000"/>
<rect x="1316" y="212" width="5" height="15" fill="#000"/>
<rect x="1317" y="213" width="3" height="13" fill="#fff"/>
<rect x="1326" y="177" width="1" height="48" fill="#000"/>
<rect x="1324" y="196" width="5" height="17" fill="#000"/>
<rect x="1325" y="197" width="3" height="15" fill="#fff"/>
<rect x="1334" y="189" width="1" height="20" fill="#000"/>
<rect x="1332" y="196" width="5" height="5" fill="#000"/>
<rect x="1342" y="190" width="1" height="54" fill="#000"/>
<rect x="1340" y="200" width="5" height="33" fill="#000"/>
<rect x="1350" y="209" width="1" height="33" fill="#000"/>
<rect x="1348" y="219" width="5" height="14" fill="#000"/>
<rect x="1349" y="220" width="3" height="12" fill="#fff"/>
<rect x="1358" y="211" width="1" height="15" fill="#000"/>
<rect x="1356" y="221" width="5" height="1" fill="#000"/>
<rect x="1366" y="219" width="1" height="19" fill="#000"/>
<rect x="1364" y="220" width="5" height="7" fill="#000"/>
<rect x="1374" y="201" width="1" height="37" fill="#000"/>
<rect x="1372" y="206" width="5" height="21" fill="#000"/>
<rect x="1373" y="207" width="3" height="19" fill="#fff"/>
<rect x="1382" y="195" width="1" height="16" fill="#000"/>
<rect x="1380" y="203" width="5" height="3" fill="#000"/>
<rect x="1381" y="204" width="3" height="1" fill="#fff"/>
<rect x="1390" y="185" width="1" height="29" fill="#000"/>
<rect x="1388" y="192" width="5" height="11" fill="#000"/>
<rect x="1389" y="193" width="3" height="9" fill="#fff"/>
<rect x="1398" y="172" width="1" height="24" fill="#000"/>
<rect x="1396" y="181" width="5" height="11" fill="#000"/>
<rect x="1397" y="182" width="3" height="9" fill="#fff"/>
<rect x="1406" y="176" width="1" height="9" fill="#000"/>
<rect x="1404" y="180" width="5" height="5" fill="#000"/>
</g>
<clipPath id="cmacd"><rect x="0" y="577" width="1649" height="173"/></clipPath>
<g clip-path="url(#cmacd)">
<rect x="6" y="636" width="1" height="1" fill="#c0c0c0"/>
<rect x="14" y="636" width="1" height="9" fill="#c0c0c0"/>
<rect x="22" y="636" width="1" height="18" fill="#c0c0c0"/>
<rect x="30" y="636" width="1" height="30" fill="#c0c0c0"/>
<rect x="38" y="636" width="1" height="40" fill="#c0c0c0"/>
<rect x="46" y="636" width="1" height="54" fill="#c0c0c0"/>
<rect x="54" y="636" width="1" height="60" fill="#c0c0c0"/>
<rect x="62" y="636" width="1" height="65" fill="#c0c0c0"/>
<rect x="70" y="636" width="1" height="64" fill="#c0c0c0"/>
<rect x="78" y="636" width="1" height="68" fill="#c0c0c0"/>
<rect x="86" y="636" width="1" height="75" fill="#c0c0c0"/>
<rect x="94" y="636" width="1" height="86" fill="#c0c0c0"/>
<rect x="102" y="636" width="1" height="95" fill="#c0c0c0"/>
<rect x="110" y="636" width="1" height="103" fill="#c0c0c0"/>
<rect x="118" y="636" width="1" height="105" fill="#c0c0c0"/>
<rect x="126" y="636" width="1" height="104" fill="#c0c0c0"/>
<rect x="134" y="636" width="1" height="102" fill="#c0c0c0"/>
<rect x="142" y="636" width="1" height="98" fill="#c0c0c0"/>
<rect x="150" y="636" width="1" height="95" fill="#c0c0c0"/>
<rect x="158" y="636" width="1" height="90" fill="#c0c0c0"/>
<rect x="166" y="636" width="1" height="79" fill="#c0c0c0"/>
<rect x="174" y="636" width="1" height="59" fill="#c0c0c0"/>
<rect x="182" y="636" width="1" height="50" fill="#c0c0c0"/>
<rect x="190" y="636" width="1" height="42" fill="#c0c0c0"/>
<rect x="198" y="636" width="1" height="33" fill="#c0c0c0"/>
<rect x="206" y="636" width="1" height="26" fill="#c0c0c0"/>
<rect x="214" y="636" width="1" height="21" fill="#c0c0c0"/>
<rect x="222" y="636" width="1" height="15" fill="#c0c0c0"/>
<rect x="230" y="636" width="1" height="10" fill="#c0c0c0"/>
<rect x="238" y="636" width="1" height="8" fill="#c0c0c0"/>
<rect x="246" y="636" width="1" height="5" fill="#c0c0c0"/>
<rect x="254" y="636" width="1" height="2" fill="#c0c0c0"/>
<rect x="262" y="634" width="1" height="3" fill="#c0c0c0"/>
<rect x="270" y="631" width="1" height="6" fill="#c0c0c0"/>
<rect x="278" y="631" width="1" height="6" fill="#c0c0c0"/>
<rect x="286" y="632" width="1" height="5" fill="#c0c0c0"/>
<rect x="294" y="635" width="1" height="2" fill="#c0c0c0"/>
<rect x="302" y="636" width="1" height="2" fill="#c0c0c0"/>
<rect x="310" y="636" width="1" height="2" fill="#c0c0c0"/>
<rect x="318" y="636" width="1" height="1" fill="#c0c0c0"/>
<rect x="326" y="636" width="1" height="2" fill="#c0c0c0"/>
<rect x="334" y="636" width="1" height="3" fill="#c0c0c0"/>
<rect x="342" y="636" width="1" height="5" fill="#c0c0c0"/>
<rect x="350" y="636" width="1" height="6" fill="#c0c0c0"/>
<rect x="358" y="636" width="1" height="8" fill="#c0c0c0"/>
<rect x="366" y="636" width="1" height="7" fill="#c0c0c0"/>
<rect x="374" y="636" width="1" height="8" fill="#c0c0c0"/>
<rect x="382" y="636" width="1" height="10" fill="#c0c0c0"/>
<rect x="390" y="636" width="1" height="8" fill="#c0c0c0"/>
<rect x="398" y="636" width="1" height="6" fill="#c0c0c0"/>
<rect x="406" y="636" width="1" height="7" fill="#c0c0c0"/>
<rect x="414" y="636" width="1" height="7" fill="#c0c0c0"/>
<rect x="422" y="636" width="1" height="16" fill="#c0c0c0"/>
<rect x="430" y="636" width="1" height="24" fill="#c0c0c0"/>
<rect x="438" y="636" width="1" height="31" fill="#c0c0c0"/>
<rect x="446" y="636" width="1" height="34" fill="#c0c0c0"/>
<rect x="454" y="636" width="1" height="33" fill="#c0c0c0"/>
<rect x="462" y="636" width="1" height="37" fill="#c0c0c0"/>
<rect x="470" y="636" width="1" height="39" fill="#c0c0c0"/>
<rect x="478" y="636" width="1" height="39" fill="#c0c0c0"/>
<rect x="486" y="636" width="1" height="39" fill="#c0c0c0"/>
<rect x="494" y="636" width="1" height="37" fill="#c0c0c0"/>
<rect x="502" y="636" width="1" height="37" fill="#c0c0c0"/>
<rect x="510" y="636" width="1" height="34" fill="#c0c0c0"/>
<rect x="518" y="636" width="1" height="28" fill="#c0c0c0"/>
<rect x="526" y="636" width="1" height="29" fill="#c0c0c0"/>
<rect x="534" y="636" width="1" height="31" fill="#c0c0c0"/>
<rect x="542" y="636" width="1" height="31" fill="#c0c0c0"/>
<rect x="550" y="636" width="1" height="29" fill="#c0c0c0"/>
<rect x="558" y="636" width="1" height="30" fill="#c0c0c0"/>
<rect x="566" y="636" width="1" height="31" fill="#c0c0c0"/>
<rect x="574" y="636" width="1" height="32" fill="#c0c0c0"/>
<rect x="582" y="636" width="1" height="31" fill="#c0c0c0"/>
<rect x="590" y="636" width="1" height="31" fill="#c0c0c0"/>
<rect x="598" y="636" width="1" height="29" fill="#c0c0c0"/>
<rect x="606" y="636" width="1" height="28" fill="#c0c0c0"/>
<rect x="614" y="636" width="1" height="28" fill="#c0c0c0"/>
<rect x="622" y="636" width="1" height="28" fill="#c0c0c0"/>
<rect x="630" y="636" width="1" height="35" fill="#c0c0c0"/>
<rect x="638" y="636" width="1" height="41" fill="#c0c0c0"/>
<rect x="646" y="636" width="1" height="46" fill="#c0c0c0"/>
<rect x="654" y="636" width="1" height="59" fill="#c0c0c0"/>
<rect x="662" y="636" width="1" height="71" fill="#c0c0c0"/>
<rect x="670" y="636" width="1" height="83" fill="#c0c0c0"/>
<rect x="678" y="636" width="1" height="88" fill="#c0c0c0"/>
<rect x="686" y="636" width="1" height="90" fill="#c0c0c0"/>
<rect x="694" y="636" width="1" height="85" fill="#c0c0c0"/>
<rect x="702" y="636" width="1" height="83" fill="#c0c0c0"/>
<rect x="710" y="636" width="1" height="80" fill="#c0c0c0"/>
<rect x="718" y="636" width="1" height="72" fill="#c0c0c0"/>
<rect x="726" y="636" width="1" height="64" fill="#c0c0c0"/>
<rect x="734" y="636" width="1" height="55" fill="#c0c0c0"/>
<rect x="742" y="636" width="1" height="53" fill="#c0c0c0"/>
<rect x="750" y="636" width="1" height="49" fill="#c0c0c0"/>
<rect x="758" y="636" width="1" height="41" fill="#c0c0c0"/>
<rect x="766" y="636" width="1" height="36" fill="#c0c0c0"/>
<rect x="774" y="636" width="1" height="29" fill="#c0c0c0"/>
<rect x="782" y="636" width="1" height="23" fill="#c0c0c0"/>
<rect x="790" y="636" width="1" height="15" fill="#c0c0c0"/>
<rect x="798" y="636" width="1" height="2" fill="#c0c0c0"/>
<rect x="806" y="623" width="1" height="14" fill="#c0c0c0"/>
<rect x="814" y="613" width="1" height="24" fill="#c0c0c0"/>
<rect x="822" y="603" width="1" height="34" fill="#c0c0c0"/>
<rect x="830" y="596" width="1" height="41" fill="#c0c0c0"/>
<rect x="838" y="594" width="1" height="43" fill="#c0c0c0"/>
<rect x="846" y="598" width="1" height="39" fill="#c0c0c0"/>
<rect x="854" y="600" width="1" height="37" fill="#c0c0c0"/>
<rect x="862" y="611" width="1" height="26" fill="#c0c0c0"/>
<rect x="870" y="623" width="1" height="14" fill="#c0c0c0"/>
<rect x="878" y="635" width="1" height="2" fill="#c0c0c0"/>
<rect x="886" y="635" width="1" height="2" fill="#c0c0c0"/>
<rect x="894" y="636" width="1" height="4" fill="#c0c0c0"/>
<rect x="902" y="636" width="1" height="5" fill="#c0c0c0"/>
<rect x="910" y="636" width="1" height="3" fill="#c0c0c0"/>
<rect x="918" y="636" width="1" height="2" fill="#c0c0c0"/>
<rect x="926" y="636" width="1" height="3" fill="#c0c0c0"/>
<rect x="934" y="636" width="1" height="6" fill="#c0c0c0"/>
<rect x="942" y="636" width="1" height="4" fill="#c0c0c0"/>
<rect x="950" y="636" width="1" height="1" fill="#c0c0c0"/>
<rect x="958" y="636" width="1" height="1" fill="#c0c0c0"/>
<rect x="966" y="636" width="1" height="1" fill="#c0c0c0"/>
<rect x="974" y="633" width="1" height="4" fill="#c0c0c0"/>
<rect x="982" y="632" width="1" height="5" fill="#c0c0c0"/>
<rect x="990" y="629" width="1" height="8" fill="#c0c0c0"/>
<rect x="998" y="624" width="1" height="13" fill="#c0c0c0"/>
<rect x="1006" y="620" width="1" height="17" fill="#c0c0c0"/>
<rect x="1014" y="616" width="1" height="21" fill="#c0c0c0"/>
<rect x="1022" y="614" width="1" height="23" fill="#c0c0c0"/>
<rect x="1030" y="613" width="1" height="24" fill="#c0c0c0"/>
<rect x="1038" y="615" width="1" height="22" fill="#c0c0c0"/>
<rect x="1046" y="623" width="1" height="14" fill="#c0c0c0"/>
<rect x="1054" y="631" width="1" height="6" fill="#c0c0c0"/>
<rect x="1062" y="636" width="1" height="1" fill="#c0c0c0"/>
<rect x="1070" y="636" width="1" height="5" fill="#c0c0c0"/>
<rect x="1078" y="636" width="1" height="6" fill="#c0c0c0"/>
<rect x="1086" y="636" width="1" height="7" fill="#c0c0c0"/>
<rect x="1094" y="636" width="1" height="12" fill="#c0c0c0"/>
<rect x="1102" y="636" width="1" height="10" fill="#c0c0c0"/>
<rect x="1110" y="636" width="1" height="5" fill="#c0c0c0"/>
<rect x="1118" y="636" width="1" height="2" fill="#c0c0c0"/>
<rect x="1126" y="634" width="1" height="3" fill="#c0c0c0"/>
<rect x="1134" y="636" width="1" height="1" fill="#c0c0c0"/>
<rect x="1142" y="634" width="1" height="3" fill="#c0c0c0"/>
<rect x="1150" y="632" width="1" height="5" fill="#c0c0c0"/>
<rect x="1158" y="630" width="1" height="7" fill="#c0c0c0"/>
<rect x="1166" y="628" width="1" height="9" fill="#c0c0c0"/>
<rect x="1174" y="626" width="1" height="11" fill="#c0c0c0"/>
<rect x="1182" y="624" width="1" height="13" fill="#c0c0c0"/>
<rect x="1190" y="624" width="1" height="13" fill="#c0c0c0"/>
<rect x="1198" y="624" width="1" height="13" fill="#c0c0c0"/>
<rect x="1206" y="623" width="1" height="14" fill="#c0c0c0"/>
<rect x="1214" y="622" width="1" height="15" fill="#c0c0c0"/>
<rect x="1222" y="621" width="1" height="16" fill="#c0c0c0"/>
<rect x="1230" y="619" width="1" height="18" fill="#c0c0c0"/>
<rect x="1238" y="616" width="1" height="21" fill="#c0c0c0"/>
<rect x="1246" y="612" width="1" height="25" fill="#c0c0c0"/>
<rect x="1254" y="610" width="1" height="27" fill="#c0c0c0"/>
<rect x="1262" y="606" width="1" height="31" fill="#c0c0c0"/>
<rect x="1270" y="604" width="1" height="33" fill="#c0c0c0"/>
<rect x="1278" y="606" width="1" height="31" fill="#c0c0c0"/>
<rect x="1286" y="607" width="1" height="30" fill="#c0c0c0"/>
<rect x="1294" y="602" width="1" height="35" fill="#c0c0c0"/>
<rect x="1302" y="598" width="1" height="39" fill="#c0c0c0"/>
<rect x="1310" y="596" width="1" height="41" fill="#c0c0c0"/>
<rect x="1318" y="593" width="1" height="44" fill="#c0c0c0"/>
<rect x="1326" y="589" width="1" height="48" fill="#c0c0c0"/>
<rect x="1334" y="586" width="1" height="51" fill="#c0c0c0"/>
<rect x="1342" y="589" width="1" height="48" fill="#c0c0c0"/>
<rect x="1350" y="590" width="1" height="47" fill="#c0c0c0"/>
<rect x="1358" y="592" width="1" height="45" fill="#c0c0c0"/>
<rect x="1366" y="594" width="1" height="43" fill="#c0c0c0"/>
<rect x="1374" y="594" width="1" height="43" fill="#c0c0c0"/>
<rect x="1382" y="594" width="1" height="43" fill="#c0c0c0"/>
<rect x="1390" y="594" width="1" height="43" fill="#c0c0c0"/>
<rect x="1398" y="592" width="1" height="45" fill="#c0c0c0"/>
<rect x="1406" y="592" width="1" height="45" fill="#c0c0c0"/>
<polyline points="-1.5,601.0 2.3,602.4 15.3,613.0 31.9,629.6 46.7,647.1 63.3,666.5 70.5,673.9 78.5,681.4 86.5,688.8 94.5,696.4 102.5,703.6 110.5,710.6 118.5,716.3 126.5,721.2 134.5,725.3 142.5,729.0 150.5,731.9 158.5,733.6 166.5,732.7 174.5,728.7 182.5,722.8 190.5,715.8 198.5,707.9 206.5,699.5 214.5,690.9 222.5,682.1 230.5,673.2 238.5,665.3 246.5,659.4 254.5,654.0 262.5,649.0 270.5,644.8 278.5,641.3 286.5,638.5 294.5,636.8 302.5,635.8 310.5,635.2 318.5,634.7 326.5,634.7 334.5,635.3 342.5,636.4 350.5,637.6 358.5,639.0 366.5,639.8 374.5,640.5 382.5,641.4 390.5,642.2 398.5,642.6 406.5,643.1 414.5,643.3 422.5,644.4 430.5,646.3 438.5,648.9 446.5,651.8 454.5,654.4 462.5,657.7 470.5,661.3 478.5,664.9 486.5,668.4 494.5,670.8 502.5,672.2 510.5,672.6 518.5,671.9 526.5,671.4 534.5,670.7 542.5,669.9 550.5,668.7 558.5,667.7 566.5,667.0 574.5,666.4 582.5,666.1 590.5,666.5 598.5,666.5 606.5,666.2 614.5,665.9 622.5,665.9 630.5,666.5 638.5,667.6 646.5,669.2 654.5,672.3 662.5,676.7 670.5,682.6 678.5,689.2 686.5,696.1 694.5,702.4 702.5,707.8 710.5,712.1 718.5,715.0 726.5,715.6 734.5,713.9 742.5,710.6 750.5,706.3 758.5,700.8 766.5,695.3 774.5,689.3 782.5,682.9 790.5,676.6 798.5,669.6 806.5,662.0 814.5,653.5 822.5,644.4 830.5,635.4 838.5,626.8 846.5,619.3 854.5,612.7 862.5,608.2 870.5,606.6 878.5,608.0 886.5,610.5 894.5,614.5 902.5,619.6 910.5,624.6 918.5,629.1 926.5,633.4 934.5,636.9 942.5,638.7 950.5,639.0 958.5,639.0 966.5,638.7 974.5,637.7 982.5,636.9 990.5,635.9 998.5,634.3 1006.5,631.9 1014.5,629.2 1022.5,626.6 1030.5,624.1 1038.5,621.7 1046.5,620.6 1054.5,620.5 1062.5,621.2 1070.5,623.0 1078.5,625.5 1086.5,628.5 1094.5,632.3 1102.5,636.0 1110.5,638.8 1118.5,640.5 1126.5,640.8 1134.5,640.8 1142.5,640.1 1150.5,639.0 1158.5,637.6 1166.5,635.4 1174.5,633.2 1182.5,631.3 1190.5,629.8 1198.5,628.7 1206.5,627.3 1214.5,625.9 1222.5,624.6 1230.5,623.4 1238.5,622.1 1246.5,620.6 1254.5,619.0 1262.5,617.0 1270.5,614.8 1278.5,613.0 1286.5,611.3 1294.5,609.2 1302.5,606.9 1310.5,604.6 1318.5,602.4 1326.5,600.1 1334.5,597.9 1342.5,596.2 1350.5,594.4 1358.5,592.8 1366.5,592.0 1374.5,591.5 1382.5,591.4 1390.5,591.5 1398.5,591.8 1406.5,592.5" fill="none" stroke="#ff0000" stroke-width="1" stroke-dasharray="3,3" shape-rendering="crispEdges"/>
</g>
<clipPath id="crsi"><rect x="0" y="753" width="1649" height="173"/></clipPath>
<g clip-path="url(#crsi)">
<line x1="2" y1="788.5" x2="1649" y2="788.5" stroke="#b4b4b4" stroke-width="1" stroke-dasharray="3,3"/>
<line x1="2" y1="839.5" x2="1649" y2="839.5" stroke="#b4b4b4" stroke-width="1" stroke-dasharray="3,3"/>
<line x1="2" y1="900.5" x2="1649" y2="900.5" stroke="#b4b4b4" stroke-width="1" stroke-dasharray="3,3"/>
<polyline points="-1.5,857.5 6.5,863.6 14.5,861.6 22.5,868.5 30.5,877.3 38.5,877.4 46.5,886.7 54.5,868.7 62.5,871.6 70.5,860.2 78.5,868.0 86.5,873.7 94.5,880.8 102.5,882.3 110.5,884.1 118.5,874.3 126.5,870.8 134.5,870.4 142.5,866.9 150.5,868.6 158.5,865.9 166.5,846.1 174.5,826.7 182.5,841.4 190.5,839.5 198.5,836.1 206.5,837.9 214.5,837.3 222.5,834.8 230.5,835.4 238.5,837.3 246.5,837.9 254.5,832.8 262.5,830.1 270.5,830.4 278.5,838.5 286.5,841.0 294.5,848.0 302.5,847.9 310.5,841.9 318.5,835.8 326.5,844.1 334.5,845.6 342.5,847.6 350.5,846.9 358.5,850.8 366.5,842.5 374.5,847.6 382.5,852.6 390.5,838.1 398.5,835.5 406.5,849.0 414.5,843.1 422.5,866.3 430.5,870.2 438.5,870.2 446.5,862.3 454.5,852.9 462.5,864.0 470.5,860.3 478.5,859.4 486.5,857.4 494.5,855.0 502.5,857.6 510.5,851.6 518.5,835.4 526.5,854.5 534.5,857.8 542.5,852.9 550.5,847.8 558.5,855.4 566.5,856.7 574.5,858.8 582.5,853.0 590.5,855.4 598.5,847.7 606.5,853.6 614.5,854.3 622.5,855.2 630.5,872.7 638.5,875.3 646.5,876.4 654.5,889.5 662.5,892.2 670.5,895.0 678.5,886.0 686.5,878.3 694.5,863.4 702.5,867.0 710.5,867.0 718.5,850.8 726.5,848.9 734.5,844.4 742.5,856.3 750.5,850.4 758.5,840.3 766.5,844.3 774.5,835.8 782.5,837.6 790.5,829.3 798.5,816.3 806.5,810.3 814.5,813.5 822.5,811.1 830.5,810.2 838.5,821.2 846.5,832.6 854.5,831.7 862.5,850.6 870.5,857.1 878.5,860.6 886.5,840.6 894.5,847.3 902.5,844.2 910.5,838.2 918.5,838.3 926.5,841.3 934.5,847.1 942.5,837.6 950.5,836.8 958.5,836.0 966.5,840.9 974.5,833.9 982.5,836.0 990.5,831.0 998.5,826.5 1006.5,823.9 1014.5,821.4 1022.5,826.3 1030.5,827.5 1038.5,835.3 1046.5,850.5 1054.5,856.8 1062.5,851.1 1070.5,852.9 1078.5,845.8 1086.5,843.7 1094.5,855.9 1102.5,838.7 1110.5,832.4 1118.5,833.7 1126.5,829.2 1134.5,844.6 1142.5,835.4 1150.5,834.6 1158.5,833.8 1166.5,830.4 1174.5,829.8 1182.5,829.1 1190.5,835.6 1198.5,831.7 1206.5,829.7 1214.5,826.9 1222.5,828.6 1230.5,825.4 1238.5,819.8 1246.5,813.7 1254.5,814.1 1262.5,811.7 1270.5,811.3 1278.5,828.2 1286.5,822.2 1294.5,808.1 1302.5,810.6 1310.5,808.7 1318.5,804.8 1326.5,800.6 1334.5,803.8 1342.5,822.1 1350.5,817.8 1358.5,819.0 1366.5,822.3 1374.5,815.1 1382.5,813.9 1390.5,810.6 1398.5,806.9 1406.5,810.1" fill="none" stroke="#1e90ff" stroke-width="1" shape-rendering="crispEdges"/>
</g>
</g>
<!-- frame -->
<rect x="0" y="25" width="1650" height="1" fill="#000"/>
<rect x="0" y="574" width="1650" height="1" fill="#000"/>
<rect x="0" y="576" width="1650" height="1" fill="#000"/>
<rect x="0" y="750" width="1650" height="1" fill="#000"/>
<rect x="0" y="752" width="1650" height="1" fill="#000"/>
<rect x="0" y="926" width="1650" height="1" fill="#000"/>
<rect x="1649" y="25" width="1" height="902" fill="#000"/>
<rect x="1695" y="23" width="1" height="919" fill="#d4d4d4"/>
<g shape-rendering="auto">

<path d="M1411 26 L1420 26 L1415.5 30.8 Z" fill="#c0c0c0"/>
<text x="5.2" y="36.6" font-size="9.6" font-family="'Liberation Sans', sans-serif" font-weight="normal" fill="#000" text-anchor="start" textLength="52.5" lengthAdjust="spacingAndGlyphs" stroke="#000" stroke-width="0.1">GBPJPY-,H4</text>
<text x="64.5" y="36.6" font-size="9.6" font-family="'Liberation Sans', sans-serif" font-weight="normal" fill="#000" text-anchor="start" textLength="140.2" lengthAdjust="spacingAndGlyphs" stroke="#000" stroke-width="0.1">163.254 163.335 163.153 163.153</text>
<text x="-6" y="588.6" font-size="9" font-family="'Liberation Sans', sans-serif" font-weight="normal" fill="#000" text-anchor="start" textLength="127.5" lengthAdjust="spacingAndGlyphs" stroke="#000" stroke-width="0.1">MACD(12,26,9) 0.6124 0.6066</text>
<text x="-6.5" y="764.6" font-size="9" font-family="'Liberation Sans', sans-serif" font-weight="normal" fill="#000" text-anchor="start" textLength="68.2" lengthAdjust="spacingAndGlyphs" stroke="#000" stroke-width="0.1">RSI(14) 67.4466</text>
<rect x="1650" y="43" width="2" height="1" fill="#000"/>
<text x="1655.7" y="46.6" font-size="9.6" font-family="'Liberation Sans', sans-serif" font-weight="normal" fill="#000" text-anchor="start" textLength="32" lengthAdjust="spacingAndGlyphs" stroke="#000" stroke-width="0.1">166.000</text>
<rect x="1650" y="76" width="2" height="1" fill="#000"/>
<text x="1655.7" y="79.6" font-size="9.6" font-family="'Liberation Sans', sans-serif" font-weight="normal" fill="#000" text-anchor="start" textLength="32" lengthAdjust="spacingAndGlyphs" stroke="#000" stroke-width="0.1">165.340</text>
<rect x="1650" y="109" width="2" height="1" fill="#000"/>
<text x="1655.7" y="112.6" font-size="9.6" font-family="'Liberation Sans', sans-serif" font-weight="normal" fill="#000" text-anchor="start" textLength="32" lengthAdjust="spacingAndGlyphs" stroke="#000" stroke-width="0.1">164.680</text>
<rect x="1650" y="142" width="2" height="1" fill="#000"/>
<text x="1655.7" y="145.6" font-size="9.6" font-family="'Liberation Sans', sans-serif" font-weight="normal" fill="#000" text-anchor="start" textLength="32" lengthAdjust="spacingAndGlyphs" stroke="#000" stroke-width="0.1">164.020</text>
<rect x="1650" y="175" width="2" height="1" fill="#000"/>
<text x="1655.7" y="178.6" font-size="9.6" font-family="'Liberation Sans', sans-serif" font-weight="normal" fill="#000" text-anchor="start" textLength="32" lengthAdjust="spacingAndGlyphs" stroke="#000" stroke-width="0.1">163.340</text>
<rect x="1650" y="208" width="2" height="1" fill="#000"/>
<text x="1655.7" y="211.6" font-size="9.6" font-family="'Liberation Sans', sans-serif" font-weight="normal" fill="#000" text-anchor="start" textLength="32" lengthAdjust="spacingAndGlyphs" stroke="#000" stroke-width="0.1">162.680</text>
<rect x="1650" y="241" width="2" height="1" fill="#000"/>
<text x="1655.7" y="244.6" font-size="9.6" font-family="'Liberation Sans', sans-serif" font-weight="normal" fill="#000" text-anchor="start" textLength="32" lengthAdjust="spacingAndGlyphs" stroke="#000" stroke-width="0.1">162.020</text>
<rect x="1650" y="274" width="2" height="1" fill="#000"/>
<text x="1655.7" y="277.6" font-size="9.6" font-family="'Liberation Sans', sans-serif" font-weight="normal" fill="#000" text-anchor="start" textLength="32" lengthAdjust="spacingAndGlyphs" stroke="#000" stroke-width="0.1">161.360</text>
<rect x="1650" y="307" width="2" height="1" fill="#000"/>
<text x="1655.7" y="310.6" font-size="9.6" font-family="'Liberation Sans', sans-serif" font-weight="normal" fill="#000" text-anchor="start" textLength="32" lengthAdjust="spacingAndGlyphs" stroke="#000" stroke-width="0.1">160.680</text>
<rect x="1650" y="340" width="2" height="1" fill="#000"/>
<text x="1655.7" y="343.6" font-size="9.6" font-family="'Liberation Sans', sans-serif" font-weight="normal" fill="#000" text-anchor="start" textLength="32" lengthAdjust="spacingAndGlyphs" stroke="#000" stroke-width="0.1">160.020</text>
<rect x="1650" y="373" width="2" height="1" fill="#000"/>
<text x="1655.7" y="376.6" font-size="9.6" font-family="'Liberation Sans', sans-serif" font-weight="normal" fill="#000" text-anchor="start" textLength="32" lengthAdjust="spacingAndGlyphs" stroke="#000" stroke-width="0.1">159.360</text>
<rect x="1650" y="406" width="2" height="1" fill="#000"/>
<text x="1655.7" y="409.6" font-size="9.6" font-family="'Liberation Sans', sans-serif" font-weight="normal" fill="#000" text-anchor="start" textLength="32" lengthAdjust="spacingAndGlyphs" stroke="#000" stroke-width="0.1">158.700</text>
<rect x="1650" y="439" width="2" height="1" fill="#000"/>
<text x="1655.7" y="442.6" font-size="9.6" font-family="'Liberation Sans', sans-serif" font-weight="normal" fill="#000" text-anchor="start" textLength="32" lengthAdjust="spacingAndGlyphs" stroke="#000" stroke-width="0.1">158.020</text>
<rect x="1650" y="472" width="2" height="1" fill="#000"/>
<text x="1655.7" y="475.6" font-size="9.6" font-family="'Liberation Sans', sans-serif" font-weight="normal" fill="#000" text-anchor="start" textLength="32" lengthAdjust="spacingAndGlyphs" stroke="#000" stroke-width="0.1">157.360</text>
<rect x="1650" y="505" width="2" height="1" fill="#000"/>
<text x="1655.7" y="508.6" font-size="9.6" font-family="'Liberation Sans', sans-serif" font-weight="normal" fill="#000" text-anchor="start" textLength="32" lengthAdjust="spacingAndGlyphs" stroke="#000" stroke-width="0.1">156.700</text>
<rect x="1650" y="538" width="2" height="1" fill="#000"/>
<text x="1655.7" y="541.6" font-size="9.6" font-family="'Liberation Sans', sans-serif" font-weight="normal" fill="#000" text-anchor="start" textLength="32" lengthAdjust="spacingAndGlyphs" stroke="#000" stroke-width="0.1">156.040</text>
<rect x="1650" y="571" width="2" height="1" fill="#000"/>
<text x="1655.7" y="574.6" font-size="9.6" font-family="'Liberation Sans', sans-serif" font-weight="normal" fill="#000" text-anchor="start" textLength="32" lengthAdjust="spacingAndGlyphs" stroke="#000" stroke-width="0.1">155.380</text>
<rect x="1651" y="121" width="41" height="11" fill="#ff0000"/>
<text x="1655.7" y="130.0" font-size="9.6" font-family="'Liberation Sans', sans-serif" font-weight="normal" fill="#fff" text-anchor="start" textLength="32" lengthAdjust="spacingAndGlyphs" stroke="#fff" stroke-width="0.1">164.309</text>
<rect x="1651" y="151" width="41" height="11" fill="#ff0000"/>
<text x="1655.7" y="160.0" font-size="9.6" font-family="'Liberation Sans', sans-serif" font-weight="normal" fill="#fff" text-anchor="start" textLength="32" lengthAdjust="spacingAndGlyphs" stroke="#fff" stroke-width="0.1">163.708</text>
<rect x="1651" y="180" width="41" height="11" fill="#000"/>
<rect x="1649" y="185" width="1" height="1" fill="#c0c0c0"/>
<text x="1655.7" y="189.0" font-size="9.6" font-family="'Liberation Sans', sans-serif" font-weight="normal" fill="#fff" text-anchor="start" textLength="32" lengthAdjust="spacingAndGlyphs" stroke="#fff" stroke-width="0.1">163.153</text>
<rect x="1651" y="195" width="41" height="11" fill="#32cd32"/>
<text x="1655.7" y="204.0" font-size="9.6" font-family="'Liberation Sans', sans-serif" font-weight="normal" fill="#fff" text-anchor="start" textLength="32" lengthAdjust="spacingAndGlyphs" stroke="#fff" stroke-width="0.1">162.821</text>
<rect x="1651" y="225" width="41" height="11" fill="#0000ff"/>
<text x="1655.7" y="234.0" font-size="9.6" font-family="'Liberation Sans', sans-serif" font-weight="normal" fill="#fff" text-anchor="start" textLength="32" lengthAdjust="spacingAndGlyphs" stroke="#fff" stroke-width="0.1">162.218</text>
<rect x="1651" y="257" width="41" height="11" fill="#0000ff"/>
<text x="1655.7" y="266.0" font-size="9.6" font-family="'Liberation Sans', sans-serif" font-weight="normal" fill="#fff" text-anchor="start" textLength="32" lengthAdjust="spacingAndGlyphs" stroke="#fff" stroke-width="0.1">161.574</text>
<rect x="1650" y="578" width="2" height="1" fill="#000"/>
<text x="1653" y="586.8" font-size="9.6" font-family="'Liberation Sans', sans-serif" font-weight="normal" fill="#000" text-anchor="start" textLength="27.6" lengthAdjust="spacingAndGlyphs" stroke="#000" stroke-width="0.1">0.7952</text>
<rect x="1650" y="636" width="2" height="1" fill="#000"/>
<text x="1653" y="640.1" font-size="9.6" font-family="'Liberation Sans', sans-serif" font-weight="normal" fill="#000" text-anchor="start" textLength="17.9" lengthAdjust="spacingAndGlyphs" stroke="#000" stroke-width="0.1">0.00</text>
<rect x="1650" y="749" width="2" height="1" fill="#000"/>
<text x="1653" y="747.4" font-size="9.6" font-family="'Liberation Sans', sans-serif" font-weight="normal" fill="#000" text-anchor="start" textLength="30.6" lengthAdjust="spacingAndGlyphs" stroke="#000" stroke-width="0.1">-1.5367</text>
<rect x="1650" y="754" width="2" height="1" fill="#000"/>
<text x="1653" y="763.1" font-size="9.6" font-family="'Liberation Sans', sans-serif" font-weight="normal" fill="#000" text-anchor="start" textLength="14.5" lengthAdjust="spacingAndGlyphs" stroke="#000" stroke-width="0.1">100</text>
<text x="1653" y="792.0" font-size="9.6" font-family="'Liberation Sans', sans-serif" font-weight="normal" fill="#000" text-anchor="start" textLength="9.7" lengthAdjust="spacingAndGlyphs" stroke="#000" stroke-width="0.1">80</text>
<text x="1653" y="843.1" font-size="9.6" font-family="'Liberation Sans', sans-serif" font-weight="normal" fill="#000" text-anchor="start" textLength="9.7" lengthAdjust="spacingAndGlyphs" stroke="#000" stroke-width="0.1">50</text>
<text x="1653" y="904.3000000000001" font-size="9.6" font-family="'Liberation Sans', sans-serif" font-weight="normal" fill="#000" text-anchor="start" textLength="9.7" lengthAdjust="spacingAndGlyphs" stroke="#000" stroke-width="0.1">15</text>
<text x="1653" y="922.9" font-size="9.6" font-family="'Liberation Sans', sans-serif" font-weight="normal" fill="#000" text-anchor="start" textLength="4.8" lengthAdjust="spacingAndGlyphs" stroke="#000" stroke-width="0.1">0</text>
<rect x="1650" y="925" width="2" height="1" fill="#000"/>
<text x="3" y="939.3" font-size="9.6" font-family="'Liberation Sans', sans-serif" font-weight="normal" fill="#000" text-anchor="start" textLength="36.5" lengthAdjust="spacingAndGlyphs" stroke="#000" stroke-width="0.1">Apr 2022</text>
<rect x="54" y="927" width="1" height="2" fill="#000"/>
<text x="53.5" y="939.3" font-size="9.6" font-family="'Liberation Sans', sans-serif" font-weight="normal" fill="#000" text-anchor="start" textLength="53.89" lengthAdjust="spacingAndGlyphs" stroke="#000" stroke-width="0.1">25 Apr 16:00</text>
<rect x="118" y="927" width="1" height="2" fill="#000"/>
<text x="117.5" y="939.3" font-size="9.6" font-family="'Liberation Sans', sans-serif" font-weight="normal" fill="#000" text-anchor="start" textLength="53.89" lengthAdjust="spacingAndGlyphs" stroke="#000" stroke-width="0.1">27 Apr 00:00</text>
<rect x="182" y="927" width="1" height="2" fill="#000"/>
<text x="181.5" y="939.3" font-size="9.6" font-family="'Liberation Sans', sans-serif" font-weight="normal" fill="#000" text-anchor="start" textLength="53.89" lengthAdjust="spacingAndGlyphs" stroke="#000" stroke-width="0.1">28 Apr 08:00</text>
<rect x="246" y="927" width="1" height="2" fill="#000"/>
<text x="245.5" y="939.3" font-size="9.6" font-family="'Liberation Sans', sans-serif" font-weight="normal" fill="#000" text-anchor="start" textLength="53.89" lengthAdjust="spacingAndGlyphs" stroke="#000" stroke-width="0.1">29 Apr 16:00</text>
<rect x="310" y="927" width="1" height="2" fill="#000"/>
<text x="309.5" y="939.3" font-size="9.6" font-family="'Liberation Sans', sans-serif" font-weight="normal" fill="#000" text-anchor="start" textLength="52.3" lengthAdjust="spacingAndGlyphs" stroke="#000" stroke-width="0.1">3 May 00:00</text>
<rect x="374" y="927" width="1" height="2" fill="#000"/>
<text x="373.5" y="939.3" font-size="9.6" font-family="'Liberation Sans', sans-serif" font-weight="normal" fill="#000" text-anchor="start" textLength="52.3" lengthAdjust="spacingAndGlyphs" stroke="#000" stroke-width="0.1">4 May 08:00</text>
<rect x="438" y="927" width="1" height="2" fill="#000"/>
<text x="437.5" y="939.3" font-size="9.6" font-family="'Liberation Sans', sans-serif" font-weight="normal" fill="#000" text-anchor="start" textLength="52.3" lengthAdjust="spacingAndGlyphs" stroke="#000" stroke-width="0.1">5 May 16:00</text>
<rect x="502" y="927" width="1" height="2" fill="#000"/>
<text x="501.5" y="939.3" font-size="9.6" font-family="'Liberation Sans', sans-serif" font-weight="normal" fill="#000" text-anchor="start" textLength="52.3" lengthAdjust="spacingAndGlyphs" stroke="#000" stroke-width="0.1">9 May 00:00</text>
<rect x="566" y="927" width="1" height="2" fill="#000"/>
<text x="565.5" y="939.3" font-size="9.6" font-family="'Liberation Sans', sans-serif" font-weight="normal" fill="#000" text-anchor="start" textLength="57.58" lengthAdjust="spacingAndGlyphs" stroke="#000" stroke-width="0.1">10 May 08:00</text>
<rect x="630" y="927" width="1" height="2" fill="#000"/>
<text x="629.5" y="939.3" font-size="9.6" font-family="'Liberation Sans', sans-serif" font-weight="normal" fill="#000" text-anchor="start" textLength="56.88" lengthAdjust="spacingAndGlyphs" stroke="#000" stroke-width="0.1">11 May 16:00</text>
<rect x="694" y="927" width="1" height="2" fill="#000"/>
<text x="693.5" y="939.3" font-size="9.6" font-family="'Liberation Sans', sans-serif" font-weight="normal" fill="#000" text-anchor="start" textLength="57.58" lengthAdjust="spacingAndGlyphs" stroke="#000" stroke-width="0.1">13 May 00:00</text>
<rect x="758" y="927" width="1" height="2" fill="#000"/>
<text x="757.5" y="939.3" font-size="9.6" font-family="'Liberation Sans', sans-serif" font-weight="normal" fill="#000" text-anchor="start" textLength="57.58" lengthAdjust="spacingAndGlyphs" stroke="#000" stroke-width="0.1">16 May 08:00</text>
<rect x="822" y="927" width="1" height="2" fill="#000"/>
<text x="821.5" y="939.3" font-size="9.6" font-family="'Liberation Sans', sans-serif" font-weight="normal" fill="#000" text-anchor="start" textLength="57.58" lengthAdjust="spacingAndGlyphs" stroke="#000" stroke-width="0.1">17 May 16:00</text>
<rect x="886" y="927" width="1" height="2" fill="#000"/>
<text x="885.5" y="939.3" font-size="9.6" font-family="'Liberation Sans', sans-serif" font-weight="normal" fill="#000" text-anchor="start" textLength="57.58" lengthAdjust="spacingAndGlyphs" stroke="#000" stroke-width="0.1">19 May 00:00</text>
<rect x="950" y="927" width="1" height="2" fill="#000"/>
<text x="949.5" y="939.3" font-size="9.6" font-family="'Liberation Sans', sans-serif" font-weight="normal" fill="#000" text-anchor="start" textLength="57.58" lengthAdjust="spacingAndGlyphs" stroke="#000" stroke-width="0.1">20 May 08:00</text>
<rect x="1014" y="927" width="1" height="2" fill="#000"/>
<text x="1013.5" y="939.3" font-size="9.6" font-family="'Liberation Sans', sans-serif" font-weight="normal" fill="#000" text-anchor="start" textLength="57.58" lengthAdjust="spacingAndGlyphs" stroke="#000" stroke-width="0.1">23 May 16:00</text>
<rect x="1078" y="927" width="1" height="2" fill="#000"/>
<text x="1077.5" y="939.3" font-size="9.6" font-family="'Liberation Sans', sans-serif" font-weight="normal" fill="#000" text-anchor="start" textLength="57.58" lengthAdjust="spacingAndGlyphs" stroke="#000" stroke-width="0.1">25 May 00:00</text>
<rect x="1142" y="927" width="1" height="2" fill="#000"/>
<text x="1141.5" y="939.3" font-size="9.6" font-family="'Liberation Sans', sans-serif" font-weight="normal" fill="#000" text-anchor="start" textLength="57.58" lengthAdjust="spacingAndGlyphs" stroke="#000" stroke-width="0.1">26 May 08:00</text>
<rect x="1206" y="927" width="1" height="2" fill="#000"/>
<text x="1205.5" y="939.3" font-size="9.6" font-family="'Liberation Sans', sans-serif" font-weight="normal" fill="#000" text-anchor="start" textLength="57.58" lengthAdjust="spacingAndGlyphs" stroke="#000" stroke-width="0.1">27 May 16:00</text>
<rect x="1270" y="927" width="1" height="2" fill="#000"/>
<text x="1269.5" y="939.3" font-size="9.6" font-family="'Liberation Sans', sans-serif" font-weight="normal" fill="#000" text-anchor="start" textLength="57.58" lengthAdjust="spacingAndGlyphs" stroke="#000" stroke-width="0.1">31 May 00:00</text>
<rect x="1334" y="927" width="1" height="2" fill="#000"/>
<text x="1333.5" y="939.3" font-size="9.6" font-family="'Liberation Sans', sans-serif" font-weight="normal" fill="#000" text-anchor="start" textLength="46.75" lengthAdjust="spacingAndGlyphs" stroke="#000" stroke-width="0.1">1 Jun 08:00</text>
<rect x="1398" y="927" width="1" height="2" fill="#000"/>
<text x="1397.5" y="939.3" font-size="9.6" font-family="'Liberation Sans', sans-serif" font-weight="normal" fill="#000" text-anchor="start" textLength="46.75" lengthAdjust="spacingAndGlyphs" stroke="#000" stroke-width="0.1">2 Jun 16:00</text>
<rect x="1183" y="201" width="10" height="1" fill="#ff0000"/><rect x="1190.5" y="199.5" width="3" height="3" fill="#fff" stroke="#ff0000" stroke-width="1"/>
<rect x="1193.5" y="189.5" width="73" height="24" fill="#fff" stroke="#ff0000" stroke-width="1"/><text x="1195.6" y="209.8" font-size="22" font-family="'Liberation Sans', sans-serif" font-weight="normal" fill="#ff0000" text-anchor="start" textLength="69.2" lengthAdjust="spacingAndGlyphs" stroke="#ff0000" stroke-width="0.5">162.821</text>
<rect x="1389" y="171" width="10" height="1" fill="#ff0000"/><rect x="1389.5" y="169.5" width="3" height="3" fill="#fff" stroke="#ff0000" stroke-width="1"/>
<rect x="1327.5" y="162.5" width="61" height="18" fill="#fff" stroke="#ff0000" stroke-width="1"/><text x="1330" y="176.8" font-size="16.5" font-family="'Liberation Sans', sans-serif" font-weight="normal" fill="#ff0000" text-anchor="start" textLength="57" lengthAdjust="spacingAndGlyphs" stroke="#ff0000" stroke-width="0.25">163.424</text>
<rect x="1045" y="441" width="9" height="1" fill="#ff0000"/>
<rect x="983.5" y="432.5" width="61" height="18" fill="#fff" stroke="#ff0000" stroke-width="1"/><text x="986" y="446.8" font-size="16.5" font-family="'Liberation Sans', sans-serif" font-weight="normal" fill="#ff0000" text-anchor="start" textLength="57" lengthAdjust="spacingAndGlyphs" stroke="#ff0000" stroke-width="0.25">157.980</text>
<rect x="661" y="561" width="9" height="1" fill="#ff0000"/>
<rect x="599.5" y="552.5" width="61" height="18" fill="#fff" stroke="#ff0000" stroke-width="1"/><text x="602" y="566.8" font-size="16.5" font-family="'Liberation Sans', sans-serif" font-weight="normal" fill="#ff0000" text-anchor="start" textLength="57" lengthAdjust="spacingAndGlyphs" stroke="#ff0000" stroke-width="0.25">155.562</text>
<line x1="1268" y1="295.5" x2="1432.2" y2="178.9" stroke="#ff0000" stroke-width="3.2" stroke-linecap="round"/><path d="M1440.9 172.7 L1433.9 183.0 L1428.9 176.0 Z" fill="#ff0000" stroke="#ff0000" stroke-width="1" stroke-linejoin="round"/>
<line x1="1325.5" y1="590.5" x2="1412.9" y2="589.5" stroke="#ff0000" stroke-width="3.0" stroke-linecap="round"/><path d="M1422.0 589.4 L1411.9 593.8 L1411.9 585.2 Z" fill="#ff0000" stroke="#ff0000" stroke-width="1" stroke-linejoin="round"/>
<line x1="1334" y1="825.5" x2="1398.8" y2="809.8" stroke="#ff0000" stroke-width="3.2" stroke-linecap="round"/><path d="M1408.5 807.4 L1398.9 814.5 L1396.7 805.5 Z" fill="#ff0000" stroke="#ff0000" stroke-width="1" stroke-linejoin="round"/>
<defs><linearGradient id="gb" x1="0" y1="0" x2="0" y2="1"><stop offset="0" stop-color="#5a5aff"/><stop offset="1" stop-color="#3838e0"/></linearGradient><linearGradient id="gp" x1="0" y1="0" x2="0" y2="1"><stop offset="0" stop-color="#3434e0"/><stop offset="1" stop-color="#0606aa"/></linearGradient><linearGradient id="gs" x1="0" y1="0" x2="0" y2="1"><stop offset="0" stop-color="#f4f4f4"/><stop offset="1" stop-color="#d2d2d2"/></linearGradient></defs>
<rect x="0" y="43" width="212" height="59" fill="#fff"/>
<rect x="0" y="45" width="45" height="25" fill="#0000a8"/><rect x="0" y="46" width="44" height="23" fill="url(#gb)"/>
<rect x="160" y="45" width="52" height="25" fill="#0000a8"/><rect x="161" y="46" width="50" height="23" fill="url(#gb)"/>
<rect x="0" y="68" width="41" height="1" fill="#00006a"/><rect x="164" y="68" width="44" height="1" fill="#00006a"/>
<rect x="0" y="69" width="41" height="1" fill="#7272ff"/><rect x="164" y="69" width="44" height="1" fill="#7272ff"/>
<rect x="0" y="69" width="102" height="33" fill="#0000a0"/><rect x="0" y="70" width="101" height="31" fill="url(#gp)"/>
<rect x="104" y="69" width="108" height="33" fill="#0000a0"/><rect x="105" y="70" width="106" height="31" fill="url(#gp)"/>
<rect x="0" y="69" width="41" height="1" fill="#7272ff"/><rect x="164" y="69" width="44" height="1" fill="#7272ff"/>
<rect x="44" y="69" width="1" height="1" fill="#0000a8"/><rect x="160" y="69" width="1" height="1" fill="#0000a8"/>
<rect x="47.5" y="45.5" width="110" height="21" fill="#fff" stroke="#a8a8a8" stroke-width="1"/>
<rect x="48" y="46" width="20.5" height="20" fill="url(#gs)" stroke="#b8b8b8" stroke-width="1"/>
<rect x="136.6" y="46" width="21" height="20" fill="url(#gs)" stroke="#b8b8b8" stroke-width="1"/>
<path d="M55 54.5 L60 54.5 L57.5 57 Z" fill="#4a5aa0"/>
<path d="M144.5 57 L149.5 57 L147 54.5 Z" fill="#4a5aa0"/>
<text x="109.8" y="59.9" font-size="12" font-family="'Liberation Sans', sans-serif" font-weight="normal" fill="#000" text-anchor="start" textLength="22.4" lengthAdjust="spacingAndGlyphs" stroke="#000" stroke-width="0.1">1.00</text>
<text x="5.6" y="61" font-size="12.2" font-family="'Liberation Sans', sans-serif" font-weight="normal" fill="#fff" text-anchor="start" textLength="25.4" lengthAdjust="spacingAndGlyphs" stroke="#fff" stroke-width="0.1">SELL</text>
<text x="173.9" y="61" font-size="12.2" font-family="'Liberation Sans', sans-serif" font-weight="normal" fill="#fff" text-anchor="start" textLength="23.1" lengthAdjust="spacingAndGlyphs" stroke="#fff" stroke-width="0.1">BUY</text>
<text x="16.5" y="96.6" font-size="12" font-family="'Liberation Sans', sans-serif" font-weight="bold" fill="#fff" text-anchor="start" textLength="20" lengthAdjust="spacingAndGlyphs" stroke="#fff" stroke-width="0.1">163</text>
<text x="42.5" y="96.9" font-size="34" font-family="'Liberation Sans', sans-serif" font-weight="normal" fill="#fff" text-anchor="start" textLength="32.2" lengthAdjust="spacingAndGlyphs" stroke="#fff" stroke-width="0.1">15</text>
<text x="80.8" y="80.8" font-size="11.5" font-family="'Liberation Sans', sans-serif" font-weight="bold" fill="#fff" text-anchor="start" textLength="6.1" lengthAdjust="spacingAndGlyphs" stroke="#fff" stroke-width="0.1">3</text>
<text x="126.8" y="96.6" font-size="12" font-family="'Liberation Sans', sans-serif" font-weight="bold" fill="#fff" text-anchor="start" textLength="20" lengthAdjust="spacingAndGlyphs" stroke="#fff" stroke-width="0.1">163</text>
<text x="151.5" y="96.9" font-size="34" font-family="'Liberation Sans', sans-serif" font-weight="normal" fill="#fff" text-anchor="start" textLength="33.6" lengthAdjust="spacingAndGlyphs" stroke="#fff" stroke-width="0.1">45</text>
<text x="191.9" y="80.8" font-size="11.5" font-family="'Liberation Sans', sans-serif" font-weight="bold" fill="#fff" text-anchor="start" textLength="6.1" lengthAdjust="spacingAndGlyphs" stroke="#fff" stroke-width="0.1">3</text>
</g>
</svg>
</body></html>
